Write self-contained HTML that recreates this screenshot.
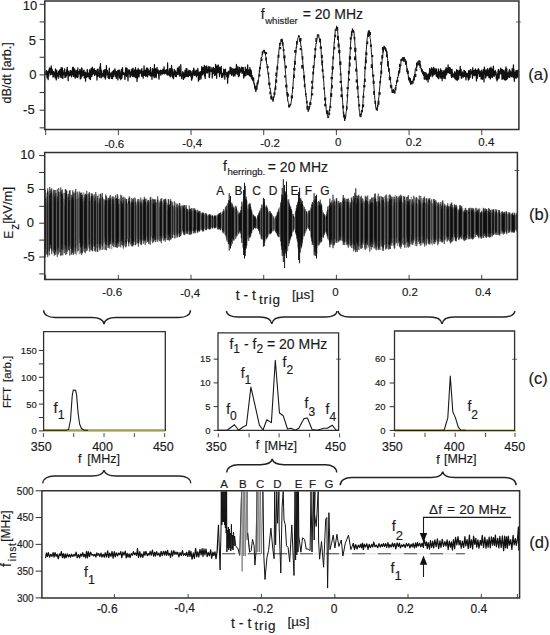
<!DOCTYPE html>
<html><head><meta charset="utf-8"><style>html,body{margin:0;padding:0;background:#fff;}svg{display:block;}text{stroke:#1a1a1a;stroke-width:0.16px;}</style></head>
<body><svg width="550" height="635" viewBox="0 0 550 635" font-family='"Liberation Sans", sans-serif' fill="#1a1a1a">
<rect width="550" height="635" fill="#fff"/>
<path d="M45.50 73.80 L45.72 74.73 L45.94 72.95 L46.16 71.04 L46.38 72.39 L46.60 70.72 L46.82 73.98 L47.04 77.95 L47.26 72.27 L47.48 71.87 L47.70 75.31 L47.92 74.90 L48.14 79.70 L48.36 70.91 L48.58 73.70 L48.80 75.95 L49.02 69.63 L49.24 72.38 L49.46 67.90 L49.68 69.80 L49.90 68.08 L50.12 73.06 L50.34 69.86 L50.56 74.63 L50.78 74.28 L51.00 73.21 L51.22 65.99 L51.44 72.12 L51.66 73.64 L51.88 74.14 L52.10 69.05 L52.32 72.31 L52.54 70.76 L52.76 71.28 L52.98 77.08 L53.20 71.29 L53.42 73.69 L53.64 76.53 L53.86 71.98 L54.08 73.44 L54.30 74.13 L54.52 73.99 L54.74 72.92 L54.96 74.02 L55.18 78.00 L55.40 68.99 L55.62 76.45 L55.84 74.16 L56.06 71.80 L56.28 79.99 L56.50 76.15 L56.72 70.07 L56.94 74.02 L57.16 75.57 L57.38 73.20 L57.60 75.90 L57.82 73.58 L58.04 75.85 L58.26 78.24 L58.48 71.69 L58.70 74.41 L58.92 72.35 L59.14 74.18 L59.36 70.10 L59.58 71.98 L59.80 73.17 L60.02 76.57 L60.24 77.33 L60.46 69.68 L60.68 71.32 L60.90 75.78 L61.12 67.60 L61.34 72.34 L61.56 73.48 L61.78 77.67 L62.00 75.91 L62.22 72.76 L62.44 67.90 L62.66 73.00 L62.88 78.50 L63.10 72.45 L63.32 72.83 L63.54 74.87 L63.76 73.40 L63.98 73.16 L64.20 70.32 L64.42 73.74 L64.64 68.86 L64.86 77.39 L65.08 75.80 L65.30 73.70 L65.52 75.84 L65.74 72.72 L65.96 77.03 L66.18 73.76 L66.40 75.58 L66.62 69.77 L66.84 74.85 L67.06 68.54 L67.28 67.46 L67.50 72.83 L67.72 70.98 L67.94 74.28 L68.16 80.73 L68.38 71.19 L68.60 71.83 L68.82 74.40 L69.04 75.30 L69.26 73.22 L69.48 73.13 L69.70 75.94 L69.92 75.38 L70.14 70.56 L70.36 73.52 L70.58 73.88 L70.80 70.50 L71.02 74.57 L71.24 71.11 L71.46 76.78 L71.68 74.36 L71.90 74.04 L72.12 71.93 L72.34 73.40 L72.56 67.57 L72.78 70.26 L73.00 74.89 L73.22 67.16 L73.44 76.39 L73.66 68.35 L73.88 71.41 L74.10 71.14 L74.32 76.18 L74.54 74.17 L74.76 69.00 L74.98 77.63 L75.20 78.23 L75.42 73.56 L75.64 72.91 L75.86 73.26 L76.08 70.74 L76.30 77.16 L76.52 72.08 L76.74 73.60 L76.96 71.30 L77.18 71.82 L77.40 69.80 L77.62 77.65 L77.84 67.95 L78.06 76.75 L78.28 73.80 L78.50 71.60 L78.72 72.74 L78.94 72.02 L79.16 73.78 L79.38 72.59 L79.60 72.82 L79.82 69.48 L80.04 71.25 L80.26 78.88 L80.48 71.67 L80.70 70.48 L80.92 74.80 L81.14 78.11 L81.36 69.24 L81.58 67.77 L81.80 71.79 L82.02 68.29 L82.24 76.03 L82.46 73.68 L82.68 73.97 L82.90 71.42 L83.12 75.16 L83.34 72.08 L83.56 73.31 L83.78 70.31 L84.00 69.98 L84.22 77.89 L84.44 72.18 L84.66 74.65 L84.88 73.64 L85.10 72.38 L85.32 72.17 L85.54 81.11 L85.76 72.81 L85.98 73.28 L86.20 73.81 L86.42 77.39 L86.64 75.85 L86.86 74.93 L87.08 72.00 L87.30 69.46 L87.52 76.69 L87.74 76.74 L87.96 73.31 L88.18 75.42 L88.40 76.16 L88.62 76.32 L88.84 76.60 L89.06 72.33 L89.28 78.44 L89.50 69.88 L89.72 76.41 L89.94 78.70 L90.16 76.45 L90.38 79.56 L90.60 78.34 L90.82 70.19 L91.04 68.50 L91.26 76.27 L91.48 70.59 L91.70 73.70 L91.92 76.34 L92.14 68.64 L92.36 67.20 L92.58 74.54 L92.80 73.87 L93.02 72.97 L93.24 73.86 L93.46 71.07 L93.68 69.04 L93.90 73.22 L94.12 70.72 L94.34 68.64 L94.56 75.30 L94.78 73.54 L95.00 74.99 L95.22 70.67 L95.44 71.69 L95.66 70.64 L95.88 70.98 L96.10 74.34 L96.32 71.30 L96.54 74.84 L96.76 74.78 L96.98 80.01 L97.20 69.41 L97.42 76.48 L97.64 73.45 L97.86 73.69 L98.08 69.23 L98.30 72.30 L98.52 76.03 L98.74 73.47 L98.96 73.98 L99.18 72.83 L99.40 77.31 L99.62 73.66 L99.84 66.91 L100.06 71.58 L100.28 67.62 L100.50 63.65 L100.72 72.08 L100.94 77.86 L101.16 73.87 L101.38 70.09 L101.60 70.81 L101.82 77.23 L102.04 74.21 L102.26 73.87 L102.48 73.56 L102.70 73.84 L102.92 76.22 L103.14 75.44 L103.36 74.39 L103.58 70.49 L103.80 75.31 L104.02 71.60 L104.24 77.11 L104.46 69.78 L104.68 73.29 L104.90 73.70 L105.12 69.61 L105.34 79.06 L105.56 78.25 L105.78 72.28 L106.00 76.11 L106.22 74.89 L106.44 65.62 L106.66 74.49 L106.88 73.53 L107.10 73.98 L107.32 70.38 L107.54 72.88 L107.76 73.16 L107.98 77.40 L108.20 74.75 L108.42 73.70 L108.64 78.45 L108.86 71.99 L109.08 72.51 L109.30 68.08 L109.52 78.58 L109.74 76.70 L109.96 76.56 L110.18 75.79 L110.40 74.05 L110.62 74.38 L110.84 72.93 L111.06 73.08 L111.28 73.88 L111.50 78.40 L111.72 75.43 L111.94 73.53 L112.16 71.91 L112.38 71.74 L112.60 78.68 L112.82 75.28 L113.04 73.92 L113.26 72.64 L113.48 70.27 L113.70 73.50 L113.92 76.42 L114.14 72.49 L114.36 73.00 L114.58 69.65 L114.80 74.05 L115.02 68.77 L115.24 72.98 L115.46 71.06 L115.68 76.45 L115.90 71.32 L116.12 75.49 L116.34 78.43 L116.56 72.73 L116.78 71.84 L117.00 74.30 L117.22 73.70 L117.44 70.62 L117.66 75.13 L117.88 79.95 L118.10 72.90 L118.32 73.07 L118.54 70.46 L118.76 71.87 L118.98 69.84 L119.20 70.27 L119.42 77.67 L119.64 70.89 L119.86 77.05 L120.08 78.42 L120.30 74.50 L120.52 75.41 L120.74 79.74 L120.96 73.08 L121.18 71.85 L121.40 69.49 L121.62 73.81 L121.84 78.27 L122.06 76.65 L122.28 70.76 L122.50 67.73 L122.72 72.11 L122.94 74.58 L123.16 73.03 L123.38 74.33 L123.60 74.58 L123.82 72.74 L124.04 73.54 L124.26 74.30 L124.48 73.39 L124.70 75.21 L124.92 79.45 L125.14 75.48 L125.36 73.82 L125.58 68.42 L125.80 74.84 L126.02 67.61 L126.24 69.27 L126.46 76.28 L126.68 75.82 L126.90 73.17 L127.12 68.33 L127.34 72.48 L127.56 71.52 L127.78 75.60 L128.00 80.62 L128.22 74.29 L128.44 71.20 L128.66 69.98 L128.88 73.44 L129.10 73.06 L129.32 70.04 L129.54 73.97 L129.76 70.03 L129.98 77.05 L130.20 76.89 L130.42 76.96 L130.64 72.12 L130.86 75.19 L131.08 73.18 L131.30 72.38 L131.52 72.53 L131.74 69.55 L131.96 69.10 L132.18 76.04 L132.40 72.98 L132.62 74.24 L132.84 76.68 L133.06 68.20 L133.28 71.14 L133.50 74.11 L133.72 74.78 L133.94 72.39 L134.16 76.75 L134.38 74.21 L134.60 69.79 L134.82 70.67 L135.04 76.05 L135.26 74.99 L135.48 67.66 L135.70 77.72 L135.92 75.39 L136.14 77.70 L136.36 72.35 L136.58 72.62 L136.80 70.04 L137.02 81.39 L137.24 72.98 L137.46 78.45 L137.68 71.52 L137.90 74.03 L138.12 68.34 L138.34 72.33 L138.56 76.56 L138.78 69.63 L139.00 76.83 L139.22 74.55 L139.44 70.27 L139.66 71.95 L139.88 72.08 L140.10 73.35 L140.32 71.83 L140.54 70.93 L140.76 72.55 L140.98 70.31 L141.20 69.49 L141.42 73.34 L141.64 76.22 L141.86 68.74 L142.08 73.49 L142.30 71.46 L142.52 73.26 L142.74 76.12 L142.96 71.86 L143.18 78.11 L143.40 71.05 L143.62 74.66 L143.84 72.76 L144.06 65.93 L144.28 75.28 L144.50 72.97 L144.72 75.32 L144.94 73.30 L145.16 70.08 L145.38 73.13 L145.60 73.61 L145.82 76.41 L146.04 70.63 L146.26 75.87 L146.48 68.10 L146.70 75.45 L146.92 70.08 L147.14 67.83 L147.36 73.24 L147.58 76.85 L147.80 68.70 L148.02 70.05 L148.24 71.11 L148.46 69.91 L148.68 74.59 L148.90 70.91 L149.12 71.17 L149.34 75.21 L149.56 71.06 L149.78 74.74 L150.00 70.39 L150.22 69.64 L150.44 67.71 L150.66 76.09 L150.88 72.40 L151.10 74.15 L151.32 73.29 L151.54 73.88 L151.76 73.54 L151.98 79.30 L152.20 70.16 L152.42 68.55 L152.64 70.24 L152.86 69.23 L153.08 75.68 L153.30 75.91 L153.52 70.38 L153.74 69.05 L153.96 72.26 L154.18 77.67 L154.40 64.62 L154.62 74.99 L154.84 70.02 L155.06 76.57 L155.28 70.01 L155.50 72.46 L155.72 68.67 L155.94 70.31 L156.16 77.63 L156.38 75.88 L156.60 72.09 L156.82 70.63 L157.04 67.46 L157.26 72.11 L157.48 73.23 L157.70 73.06 L157.92 73.03 L158.14 69.84 L158.36 73.11 L158.58 73.19 L158.80 77.31 L159.02 79.10 L159.24 72.88 L159.46 70.93 L159.68 73.10 L159.90 71.42 L160.12 71.00 L160.34 73.12 L160.56 70.07 L160.78 75.18 L161.00 72.98 L161.22 74.08 L161.44 72.73 L161.66 71.05 L161.88 70.36 L162.10 72.56 L162.32 71.60 L162.54 74.03 L162.76 73.29 L162.98 69.08 L163.20 73.51 L163.42 69.14 L163.64 71.39 L163.86 72.39 L164.08 66.87 L164.30 73.58 L164.52 73.77 L164.74 72.81 L164.96 71.98 L165.18 72.14 L165.40 70.27 L165.62 72.46 L165.84 71.59 L166.06 73.58 L166.28 69.57 L166.50 74.03 L166.72 73.74 L166.94 72.86 L167.16 71.94 L167.38 75.01 L167.60 62.93 L167.82 74.73 L168.04 74.05 L168.26 74.18 L168.48 74.49 L168.70 71.27 L168.92 72.50 L169.14 75.27 L169.36 69.50 L169.58 73.94 L169.80 68.61 L170.02 74.97 L170.24 76.93 L170.46 76.43 L170.68 74.03 L170.90 68.47 L171.12 76.22 L171.34 72.84 L171.56 65.45 L171.78 74.47 L172.00 68.67 L172.22 69.28 L172.44 71.33 L172.66 77.25 L172.88 72.15 L173.10 74.14 L173.32 78.72 L173.54 78.24 L173.76 72.98 L173.98 72.55 L174.20 69.39 L174.42 71.15 L174.64 74.62 L174.86 74.53 L175.08 73.64 L175.30 76.38 L175.52 70.91 L175.74 73.13 L175.96 75.57 L176.18 75.11 L176.40 76.62 L176.62 74.53 L176.84 72.34 L177.06 74.42 L177.28 70.19 L177.50 68.22 L177.72 69.23 L177.94 73.13 L178.16 74.26 L178.38 68.04 L178.60 72.17 L178.82 71.44 L179.04 70.62 L179.26 66.31 L179.48 76.02 L179.70 76.08 L179.92 74.48 L180.14 71.44 L180.36 73.25 L180.58 75.65 L180.80 64.74 L181.02 72.91 L181.24 74.98 L181.46 75.41 L181.68 78.57 L181.90 76.82 L182.12 74.27 L182.34 74.24 L182.56 75.74 L182.78 71.63 L183.00 73.18 L183.22 76.11 L183.44 79.37 L183.66 72.81 L183.88 73.15 L184.10 73.92 L184.32 77.46 L184.54 73.21 L184.76 77.86 L184.98 70.30 L185.20 72.72 L185.42 72.69 L185.64 75.74 L185.86 76.54 L186.08 68.62 L186.30 70.46 L186.52 74.34 L186.74 71.26 L186.96 68.58 L187.18 76.52 L187.40 74.83 L187.62 74.83 L187.84 71.83 L188.06 76.49 L188.28 72.56 L188.50 76.70 L188.72 70.47 L188.94 70.65 L189.16 73.93 L189.38 71.12 L189.60 75.39 L189.82 74.11 L190.04 70.44 L190.26 73.53 L190.48 72.21 L190.70 76.14 L190.92 71.34 L191.14 71.94 L191.36 77.05 L191.58 80.24 L191.80 79.50 L192.02 73.50 L192.24 73.98 L192.46 78.05 L192.68 72.91 L192.90 70.27 L193.12 73.66 L193.34 74.70 L193.56 70.73 L193.78 68.20 L194.00 68.85 L194.22 75.36 L194.44 70.95 L194.66 72.86 L194.88 73.96 L195.10 75.22 L195.32 72.26 L195.54 74.85 L195.76 70.54 L195.98 72.18 L196.20 70.12 L196.42 76.81 L196.64 73.22 L196.86 71.01 L197.08 72.21 L197.30 72.61 L197.52 75.47 L197.74 68.35 L197.96 70.08 L198.18 72.13 L198.40 81.15 L198.62 76.26 L198.84 72.95 L199.06 75.51 L199.28 79.68 L199.50 72.58 L199.72 72.16 L199.94 77.06 L200.16 74.80 L200.38 75.31 L200.60 71.61 L200.82 79.11 L201.04 78.40 L201.26 74.82 L201.48 75.14 L201.70 66.70 L201.92 74.92 L202.14 72.30 L202.36 74.20 L202.58 74.93 L202.80 71.72 L203.02 67.49 L203.24 73.83 L203.46 70.35 L203.68 71.59 L203.90 70.69 L204.12 71.47 L204.34 65.33 L204.56 76.22 L204.78 73.19 L205.00 75.81 L205.22 78.46 L205.44 72.35 L205.66 66.65 L205.88 69.43 L206.10 68.41 L206.32 70.56 L206.54 72.32 L206.76 65.83 L206.98 73.05 L207.20 67.27 L207.42 72.83 L207.64 71.53 L207.86 70.85 L208.08 71.56 L208.30 70.07 L208.52 69.80 L208.74 66.44 L208.96 71.53 L209.18 77.30 L209.40 77.68 L209.62 75.59 L209.84 73.64 L210.06 66.77 L210.28 70.57 L210.50 71.16 L210.72 71.08 L210.94 70.35 L211.16 71.49 L211.38 69.82 L211.60 70.87 L211.82 67.72 L212.04 69.88 L212.26 78.07 L212.48 70.74 L212.70 70.18 L212.92 72.53 L213.14 73.03 L213.36 67.34 L213.58 70.11 L213.80 73.56 L214.02 71.51 L214.24 71.01 L214.46 75.41 L214.68 68.45 L214.90 70.76 L215.12 68.85 L215.34 75.04 L215.56 64.33 L215.78 68.26 L216.00 68.66 L216.22 72.45 L216.44 72.37 L216.66 78.32 L216.88 65.80 L217.10 73.10 L217.32 69.96 L217.54 68.90 L217.76 72.73 L217.98 68.30 L218.20 64.81 L218.42 70.20 L218.64 66.79 L218.86 69.52 L219.08 72.78 L219.30 72.69 L219.52 76.74 L219.74 71.29 L219.96 67.25 L220.18 69.76 L220.40 69.35 L220.62 68.52 L220.84 73.74 L221.06 70.48 L221.28 66.45 L221.50 74.83 L221.72 77.57 L221.94 73.97 L222.16 73.28 L222.38 75.01 L222.60 73.26 L222.82 77.07 L223.04 74.65 L223.26 74.64 L223.48 74.79 L223.70 69.10 L223.92 73.20 L224.14 73.00 L224.36 74.55 L224.58 69.79 L224.80 79.16 L225.02 74.51 L225.24 70.53 L225.46 69.08 L225.68 73.60 L225.90 74.29 L226.12 72.44 L226.34 75.04 L226.56 72.86 L226.78 76.66 L227.00 72.80 L227.22 75.02 L227.44 78.27 L227.66 83.23 L227.88 72.00 L228.10 73.55 L228.32 72.25 L228.54 77.14 L228.76 71.02 L228.98 72.94 L229.20 74.21 L229.42 71.13 L229.64 71.06 L229.86 72.41 L230.08 67.24 L230.30 69.13 L230.52 72.19 L230.74 73.80 L230.96 72.62 L231.18 67.56 L231.40 71.49 L231.62 75.26 L231.84 74.37 L232.06 72.27 L232.28 69.62 L232.50 74.19 L232.72 70.31 L232.94 68.34 L233.16 69.34 L233.38 76.18 L233.60 72.23 L233.82 75.01 L234.04 69.79 L234.26 74.05 L234.48 69.14 L234.70 70.37 L234.92 75.98 L235.14 72.97 L235.36 68.90 L235.58 70.05 L235.80 71.19 L236.02 73.79 L236.24 68.38 L236.46 64.41 L236.68 68.97 L236.90 69.92 L237.12 70.25 L237.34 74.02 L237.56 70.95 L237.78 72.52 L238.00 66.62 L238.22 72.76 L238.44 76.60 L238.66 72.53 L238.88 70.95 L239.10 70.67 L239.32 75.77 L239.54 67.39 L239.76 69.95 L239.98 71.75 L240.20 72.66 L240.42 69.03 L240.64 71.37 L240.86 69.59 L241.08 70.86 L241.30 70.11 L241.52 67.01 L241.74 70.52 L241.96 73.33 L242.18 67.65 L242.40 69.93 L242.62 72.77 L242.84 67.43 L243.06 71.34 L243.28 67.52 L243.50 74.36 L243.72 78.04 L243.94 77.17 L244.16 72.77 L244.38 73.26 L244.60 71.38 L244.82 75.87 L245.04 75.86 L245.26 67.01 L245.48 74.40 L245.70 71.01 L245.92 75.56 L246.14 71.81 L246.36 69.17 L246.58 72.15 L246.80 73.61 L247.02 71.47 L247.24 72.90 L247.46 74.64 L247.68 64.84 L247.90 74.28 L248.12 73.70 L248.34 72.04 L248.56 71.85 L248.78 74.91 L249.00 70.33 L249.22 69.61 L249.44 71.28 L249.66 75.60 L249.88 67.67 L250.10 76.18 L250.32 70.67 L250.54 69.52 L250.76 76.77 L250.98 73.19 L251.20 70.26 L251.42 73.48 L251.64 77.63 L251.86 78.97 L252.08 75.41 L252.30 78.36 L252.52 79.93 L252.74 77.39 L252.96 80.70 L253.18 80.63 L253.40 80.32 L253.62 78.07 L253.84 83.34 L254.06 84.02 L254.28 83.47 L254.50 84.43 L254.72 88.11 L254.94 86.79 L255.16 88.47 L255.38 89.34 L255.60 88.40 L255.82 91.45 L256.04 86.09 L256.26 88.73 L256.48 86.65 L256.70 89.65 L256.92 88.79 L257.14 82.75 L257.36 83.44 L257.58 84.77 L257.80 83.87 L258.02 82.63 L258.24 80.38 L258.46 79.71" fill="none" stroke="#111" stroke-width="1.25" stroke-linejoin="round" />
<path d="M258.02 82.63 L258.24 80.38 L258.46 79.71 L258.68 78.55 L258.90 76.15 L259.12 76.00 L259.34 70.31 L259.56 72.32 L259.78 68.60 L260.00 69.45 L260.22 66.34 L260.44 63.90 L260.66 63.89 L260.88 60.75 L261.10 59.26 L261.32 57.03 L261.54 57.62 L261.76 57.02 L261.98 56.53 L262.20 54.03 L262.42 54.59 L262.64 52.51 L262.86 51.69 L263.08 51.99 L263.30 52.20 L263.52 50.19 L263.74 50.20 L263.96 50.34 L264.18 50.82 L264.40 49.92 L264.62 52.80 L264.84 51.63 L265.06 53.46 L265.28 52.74 L265.50 55.23 L265.72 56.40 L265.94 56.64 L266.16 61.05 L266.38 60.44 L266.60 63.74 L266.82 64.35 L267.04 64.02 L267.26 66.13 L267.48 68.97 L267.70 70.35 L267.92 72.21 L268.14 73.69 L268.36 73.69 L268.58 77.57 L268.80 76.95 L269.02 82.04 L269.24 82.48 L269.46 84.25 L269.68 86.57 L269.90 88.82 L270.12 88.23 L270.34 89.29 L270.56 91.50 L270.78 91.53 L271.00 94.01 L271.22 98.22 L271.44 95.80 L271.66 98.68 L271.88 96.77 L272.10 99.33 L272.32 98.88 L272.54 99.39 L272.76 100.20 L272.98 101.55 L273.20 99.27 L273.42 100.42 L273.64 96.64 L273.86 97.74 L274.08 95.68 L274.30 95.86 L274.52 93.43 L274.74 94.19 L274.96 87.93 L275.18 88.30 L275.40 87.93 L275.62 84.43 L275.84 81.84 L276.06 78.55 L276.28 76.79 L276.50 76.42 L276.72 77.04 L276.94 73.12 L277.16 67.98 L277.38 65.96 L277.60 64.26 L277.82 63.76 L278.04 59.26 L278.26 57.27 L278.48 57.15 L278.70 55.13 L278.92 50.54 L279.14 48.97 L279.36 46.76 L279.58 46.29 L279.80 42.98 L280.02 45.46 L280.24 42.65 L280.46 43.11 L280.68 44.09 L280.90 42.64 L281.12 39.33 L281.34 41.63 L281.56 41.96 L281.78 39.76 L282.00 39.93 L282.22 41.64 L282.44 40.66 L282.66 45.62 L282.88 42.10 L283.10 45.26 L283.32 48.04 L283.54 48.95 L283.76 52.58 L283.98 54.94 L284.20 56.71 L284.42 60.89 L284.64 59.39 L284.86 64.74 L285.08 66.58 L285.30 70.43 L285.52 73.34 L285.74 74.74 L285.96 77.87 L286.18 82.41 L286.40 84.55 L286.62 84.42 L286.84 91.81 L287.06 94.55 L287.28 92.11 L287.50 96.44 L287.72 101.16 L287.94 100.78 L288.16 101.67 L288.38 102.52 L288.60 103.28 L288.82 104.64 L289.04 104.94 L289.26 107.05 L289.48 105.87 L289.70 105.83 L289.92 104.68 L290.14 105.73 L290.36 104.09 L290.58 104.20 L290.80 104.75 L291.02 102.75 L291.24 101.59 L291.46 99.89 L291.68 97.86 L291.90 95.80 L292.12 93.62 L292.34 92.87 L292.56 88.35 L292.78 89.07 L293.00 85.04 L293.22 81.58 L293.44 79.36 L293.66 76.53 L293.88 74.95 L294.10 71.21 L294.32 70.88 L294.54 65.84 L294.76 61.36 L294.98 60.72 L295.20 56.61 L295.42 56.63 L295.64 55.65 L295.86 52.88 L296.08 48.26 L296.30 46.96 L296.52 48.25 L296.74 44.69 L296.96 42.71 L297.18 42.62 L297.40 43.12 L297.62 40.62 L297.84 38.30 L298.06 37.89 L298.28 37.74 L298.50 35.92 L298.72 35.28 L298.94 36.77 L299.16 35.79 L299.38 37.35 L299.60 38.16 L299.82 41.74 L300.04 38.70 L300.26 40.71 L300.48 41.91 L300.70 44.06 L300.92 46.36 L301.14 46.11 L301.36 47.49 L301.58 48.38 L301.80 51.29 L302.02 55.24 L302.24 56.83 L302.46 57.78 L302.68 60.93 L302.90 63.84 L303.12 66.87 L303.34 67.97 L303.56 70.90 L303.78 71.44 L304.00 74.77 L304.22 80.71 L304.44 78.40 L304.66 83.13 L304.88 86.19 L305.10 87.75 L305.32 89.43 L305.54 92.50 L305.76 94.62 L305.98 96.47 L306.20 96.05 L306.42 99.92 L306.64 100.61 L306.86 102.43 L307.08 104.70 L307.30 106.36 L307.52 107.66 L307.74 106.75 L307.96 109.18 L308.18 111.74 L308.40 110.26 L308.62 110.73 L308.84 108.78 L309.06 108.52 L309.28 109.35 L309.50 106.01 L309.72 107.18 L309.94 105.28 L310.16 103.00 L310.38 101.27 L310.60 100.84 L310.82 100.27 L311.04 99.60 L311.26 97.79 L311.48 94.37 L311.70 92.05 L311.92 88.95 L312.14 88.09 L312.36 84.81 L312.58 83.33 L312.80 82.16 L313.02 76.07 L313.24 72.79 L313.46 70.90 L313.68 67.47 L313.90 65.13 L314.12 65.62 L314.34 61.68 L314.56 56.96 L314.78 57.21 L315.00 55.58 L315.22 51.26 L315.44 48.69 L315.66 47.05 L315.88 45.89 L316.10 42.94 L316.32 43.58 L316.54 42.14 L316.76 40.79 L316.98 39.86 L317.20 38.03 L317.42 34.51 L317.64 35.67 L317.86 35.83 L318.08 34.75 L318.30 36.36 L318.52 34.95 L318.74 34.63 L318.96 38.16 L319.18 37.94 L319.40 38.33 L319.62 40.33 L319.84 41.80 L320.06 42.36 L320.28 40.49 L320.50 44.50 L320.72 46.70 L320.94 48.11 L321.16 51.77 L321.38 55.32 L321.60 55.63 L321.82 57.33 L322.04 65.42 L322.26 63.42 L322.48 65.15 L322.70 69.75 L322.92 72.77 L323.14 74.15 L323.36 78.83 L323.58 80.03 L323.80 82.25 L324.02 86.37 L324.24 89.79 L324.46 90.66 L324.68 94.42 L324.90 96.35 L325.12 101.01 L325.34 100.20 L325.56 104.95 L325.78 105.16 L326.00 106.92 L326.22 109.70 L326.44 111.47 L326.66 113.32 L326.88 113.37 L327.10 113.25 L327.32 114.19 L327.54 116.17 L327.76 116.74 L327.98 118.05 L328.20 116.92 L328.42 117.57 L328.64 117.68 L328.86 115.23 L329.08 112.10 L329.30 111.13 L329.52 109.18 L329.74 111.06 L329.96 105.85 L330.18 106.04 L330.40 102.61 L330.62 101.18 L330.84 97.27 L331.06 92.70 L331.28 89.24 L331.50 86.15 L331.72 82.71 L331.94 78.20 L332.16 72.85 L332.38 73.51 L332.60 65.68 L332.82 64.47 L333.04 59.40 L333.26 57.24 L333.48 54.63 L333.70 50.21 L333.92 48.11 L334.14 42.18 L334.36 42.77 L334.58 38.06 L334.80 37.26 L335.02 34.61 L335.24 29.32 L335.46 30.05 L335.68 30.00 L335.90 30.68 L336.12 28.42 L336.34 28.00 L336.56 25.85 L336.78 29.64 L337.00 30.66 L337.22 29.28 L337.44 30.12 L337.66 29.81 L337.88 34.66 L338.10 38.92 L338.32 38.68 L338.54 41.85 L338.76 43.65 L338.98 44.66 L339.20 50.66 L339.42 53.03 L339.64 55.39 L339.86 59.53 L340.08 63.90 L340.30 68.04 L340.52 70.71 L340.74 73.03 L340.96 76.13 L341.18 83.19 L341.40 84.24 L341.62 87.08 L341.84 90.62 L342.06 94.94 L342.28 96.44 L342.50 100.11 L342.72 102.59 L342.94 107.49 L343.16 110.17 L343.38 114.32 L343.60 111.83 L343.82 114.47 L344.04 117.80 L344.26 117.43 L344.48 118.03 L344.70 121.01 L344.92 118.58 L345.14 117.35 L345.36 116.59 L345.58 117.75 L345.80 116.47 L346.02 112.80 L346.24 111.40 L346.46 111.11 L346.68 108.69 L346.90 104.43 L347.12 103.03 L347.34 99.77 L347.56 93.43 L347.78 91.70 L348.00 88.91 L348.22 83.85 L348.44 78.00 L348.66 76.37 L348.88 73.70 L349.10 70.78 L349.32 62.15 L349.54 64.31 L349.76 55.90 L349.98 54.90 L350.20 51.80 L350.42 48.23 L350.64 44.14 L350.86 39.70 L351.08 39.39 L351.30 35.44 L351.52 31.21 L351.74 36.24 L351.96 32.26 L352.18 32.65 L352.40 28.59 L352.62 31.26 L352.84 31.45 L353.06 31.76 L353.28 30.44 L353.50 29.92 L353.72 32.46 L353.94 31.46 L354.16 33.90 L354.38 38.22 L354.60 39.19 L354.82 42.77 L355.04 45.60 L355.26 51.11 L355.48 53.45 L355.70 55.05 L355.92 60.02 L356.14 61.04 L356.36 65.18 L356.58 70.38 L356.80 71.35 L357.02 76.21 L357.24 78.55 L357.46 83.93 L357.68 89.33 L357.90 89.75 L358.12 94.26 L358.34 95.98 L358.56 98.62 L358.78 101.28 L359.00 107.19 L359.22 110.65 L359.44 110.37 L359.66 110.69 L359.88 114.00 L360.10 113.95 L360.32 116.33 L360.54 116.35 L360.76 116.69 L360.98 117.14 L361.20 115.37 L361.42 114.97 L361.64 112.39 L361.86 112.73 L362.08 109.95 L362.30 109.69 L362.52 106.53 L362.74 105.46 L362.96 103.26 L363.18 98.05 L363.40 95.74 L363.62 92.33 L363.84 91.05 L364.06 88.73 L364.28 84.04 L364.50 78.85 L364.72 77.39 L364.94 69.93 L365.16 69.98 L365.38 63.61 L365.60 57.36 L365.82 60.66 L366.04 55.96 L366.26 49.50 L366.48 47.99 L366.70 44.70 L366.92 42.52 L367.14 38.21 L367.36 37.15 L367.58 36.81 L367.80 35.02 L368.02 35.07 L368.24 31.52 L368.46 35.13 L368.68 31.11 L368.90 32.44 L369.12 30.12 L369.34 31.63 L369.56 35.81 L369.78 34.20 L370.00 37.52 L370.22 38.51 L370.44 39.25 L370.66 42.30 L370.88 44.49 L371.10 47.10 L371.32 51.39 L371.54 54.15 L371.76 55.63 L371.98 58.34 L372.20 63.02 L372.42 65.79 L372.64 70.49 L372.86 75.81 L373.08 76.82 L373.30 78.95 L373.52 81.94 L373.74 84.16 L373.96 87.06 L374.18 89.76 L374.40 93.19 L374.62 95.65 L374.84 99.41 L375.06 100.07 L375.28 102.18 L375.50 102.52 L375.72 107.47 L375.94 107.15 L376.16 109.58 L376.38 108.90 L376.60 110.03 L376.82 107.85 L377.04 108.81 L377.26 110.81 L377.48 105.17 L377.70 107.22 L377.92 106.70 L378.14 103.72 L378.36 102.57 L378.58 101.44 L378.80 97.05 L379.02 96.31 L379.24 92.43 L379.46 90.30 L379.68 87.89 L379.90 85.93 L380.12 83.67 L380.34 81.38 L380.56 76.28 L380.78 77.92 L381.00 74.17 L381.22 70.97 L381.44 66.99 L381.66 64.81 L381.88 63.22 L382.10 60.74 L382.32 55.91 L382.54 57.00 L382.76 57.95 L382.98 50.19 L383.20 52.37 L383.42 51.77 L383.64 48.67 L383.86 49.77 L384.08 45.92 L384.30 47.31 L384.52 48.88 L384.74 46.83 L384.96 46.76 L385.18 47.81 L385.40 47.57 L385.62 50.79 L385.84 48.32 L386.06 51.54 L386.28 49.70 L386.50 53.37 L386.72 53.53 L386.94 51.47 L387.16 56.36 L387.38 56.37 L387.60 58.76 L387.82 63.12 L388.04 61.07 L388.26 62.83 L388.48 68.09 L388.70 67.97 L388.92 71.77 L389.14 71.78 L389.36 71.78 L389.58 74.69 L389.80 78.28 L390.02 78.36 L390.24 79.71 L390.46 81.31 L390.68 82.53 L390.90 83.20 L391.12 88.28 L391.34 86.55 L391.56 85.88 L391.78 87.85 L392.00 90.56 L392.22 91.15 L392.44 90.54 L392.66 90.17 L392.88 91.59 L393.10 89.08 L393.32 89.72 L393.54 93.04 L393.76 90.86 L393.98 92.05 L394.20 93.16 L394.42 91.90 L394.64 90.46 L394.86 93.47 L395.08 90.51 L395.30 88.19 L395.52 89.35 L395.74 88.07 L395.96 85.14 L396.18 85.89 L396.40 84.59 L396.62 80.56 L396.84 82.68 L397.06 81.48 L397.28 80.17 L397.50 76.98 L397.72 78.16 L397.94 77.62 L398.16 76.76 L398.38 73.42 L398.60 75.47 L398.82 71.02 L399.04 71.70 L399.26 73.39 L399.48 68.67 L399.70 67.95 L399.92 69.84 L400.14 66.16 L400.36 65.36 L400.58 65.41 L400.80 66.08 L401.02 59.21 L401.24 61.00 L401.46 59.95 L401.68 59.15 L401.90 59.00 L402.12 58.50 L402.34 60.18 L402.56 57.56 L402.78 59.15 L403.00 59.43 L403.22 57.14 L403.44 58.67 L403.66 61.50 L403.88 59.09 L404.10 57.44 L404.32 58.79 L404.54 57.53 L404.76 60.23 L404.98 61.89 L405.20 59.31 L405.42 61.16 L405.64 64.45 L405.86 62.20 L406.08 64.41 L406.30 63.03 L406.52 64.41 L406.74 66.03 L406.96 72.17 L407.18 68.38 L407.40 69.25 L407.62 70.29 L407.84 72.14 L408.06 74.78 L408.28 74.97 L408.50 79.56 L408.72 77.06 L408.94 80.38 L409.16 79.06 L409.38 80.54 L409.60 77.41 L409.82 80.65 L410.04 81.40 L410.26 81.63 L410.48 78.43 L410.70 84.67 L410.92 82.52 L411.14 80.96 L411.36 83.09 L411.58 83.15 L411.80 84.30 L412.02 80.86 L412.24 81.25 L412.46 83.26 L412.68 82.53 L412.90 80.97 L413.12 79.97 L413.34 78.78 L413.56 79.55 L413.78 81.17 L414.00 75.91 L414.22 80.10 L414.44 77.83 L414.66 74.31 L414.88 75.78 L415.10 70.35 L415.32 68.85 L415.54 68.76 L415.76 69.57 L415.98 68.84 L416.20 67.59 L416.42 68.01 L416.64 62.78 L416.86 67.35 L417.08 62.90 L417.30 63.87 L417.52 63.91 L417.74 62.04 L417.96 61.33 L418.18 61.87 L418.40 63.79 L418.62 65.00 L418.84 65.01 L419.06 60.32 L419.28 62.53 L419.50 62.48 L419.72 65.54 L419.94 60.78 L420.16 67.82 L420.38 64.70 L420.60 64.53 L420.82 67.31 L421.04 69.24 L421.26 68.37 L421.48 70.39 L421.70 69.09 L421.92 71.95 L422.14 72.60 L422.36 70.44 L422.58 74.25 L422.80 72.23 L423.02 72.68 L423.24 71.18 L423.46 73.07 L423.68 75.86 L423.90 72.03 L424.12 78.54 L424.34 79.65 L424.56 76.76 L424.78 71.95 L425.00 76.71 L425.22 78.60 L425.44 77.69" fill="none" stroke="#151515" stroke-width="1.0" stroke-linejoin="round" />
<g fill="#151515"><rect x="258.37" y="74.20" width="2.01" height="2.44"/><rect x="259.04" y="66.78" width="1.86" height="2.16"/><rect x="260.76" y="58.39" width="1.78" height="2.56"/><rect x="261.69" y="51.32" width="1.67" height="2.53"/><rect x="264.89" y="52.11" width="2.24" height="2.10"/><rect x="265.30" y="57.51" width="1.56" height="3.04"/><rect x="266.60" y="65.87" width="2.05" height="2.38"/><rect x="267.73" y="72.49" width="1.56" height="2.47"/><rect x="268.11" y="82.48" width="2.37" height="2.66"/><rect x="269.35" y="91.42" width="1.56" height="2.92"/><rect x="270.35" y="96.20" width="2.01" height="3.25"/><rect x="273.43" y="92.34" width="1.89" height="2.57"/><rect x="274.78" y="85.94" width="1.57" height="3.85"/><rect x="275.18" y="79.43" width="2.00" height="3.29"/><rect x="275.34" y="72.55" width="1.74" height="3.47"/><rect x="276.48" y="66.26" width="1.78" height="3.38"/><rect x="277.44" y="54.89" width="1.98" height="2.82"/><rect x="279.10" y="46.84" width="2.14" height="2.35"/><rect x="280.86" y="38.79" width="1.91" height="3.23"/><rect x="282.74" y="49.03" width="1.76" height="2.03"/><rect x="283.26" y="55.40" width="2.25" height="3.07"/><rect x="284.78" y="65.57" width="2.13" height="2.75"/><rect x="284.07" y="75.41" width="1.82" height="2.13"/><rect x="285.16" y="84.69" width="2.19" height="2.74"/><rect x="286.59" y="93.54" width="2.30" height="3.16"/><rect x="288.12" y="104.70" width="2.08" height="2.81"/><rect x="290.74" y="95.35" width="2.24" height="3.13"/><rect x="292.09" y="86.95" width="1.52" height="2.03"/><rect x="293.01" y="74.49" width="1.85" height="3.49"/><rect x="293.16" y="67.82" width="2.28" height="2.73"/><rect x="293.97" y="60.81" width="1.94" height="3.93"/><rect x="294.16" y="50.00" width="2.35" height="2.72"/><rect x="296.06" y="40.91" width="1.58" height="3.85"/><rect x="299.99" y="38.06" width="1.58" height="3.20"/><rect x="299.67" y="47.94" width="1.76" height="2.23"/><rect x="301.65" y="56.16" width="1.71" height="3.55"/><rect x="301.20" y="64.98" width="2.26" height="3.57"/><rect x="303.08" y="75.17" width="2.07" height="3.17"/><rect x="303.84" y="83.86" width="1.61" height="3.48"/><rect x="305.07" y="92.85" width="1.52" height="2.50"/><rect x="305.98" y="100.72" width="1.65" height="2.70"/><rect x="306.44" y="105.91" width="2.26" height="3.74"/><rect x="309.32" y="102.13" width="2.11" height="2.81"/><rect x="310.93" y="93.23" width="2.27" height="2.17"/><rect x="311.33" y="86.41" width="2.05" height="2.51"/><rect x="311.08" y="80.81" width="1.68" height="2.76"/><rect x="312.26" y="71.58" width="1.84" height="2.81"/><rect x="312.50" y="65.66" width="1.89" height="2.57"/><rect x="313.85" y="54.96" width="1.89" height="3.13"/><rect x="314.19" y="48.13" width="2.23" height="2.19"/><rect x="315.32" y="38.17" width="1.57" height="3.83"/><rect x="319.21" y="38.59" width="1.85" height="3.21"/><rect x="319.72" y="46.31" width="2.24" height="2.54"/><rect x="320.85" y="54.84" width="1.97" height="3.25"/><rect x="321.41" y="60.50" width="1.73" height="2.71"/><rect x="321.67" y="69.13" width="1.86" height="2.64"/><rect x="322.76" y="75.77" width="1.54" height="2.65"/><rect x="323.33" y="87.48" width="1.69" height="2.07"/><rect x="324.01" y="97.54" width="2.24" height="2.49"/><rect x="324.18" y="103.74" width="2.25" height="2.61"/><rect x="326.02" y="110.33" width="2.34" height="3.82"/><rect x="328.40" y="112.69" width="1.77" height="2.14"/><rect x="329.71" y="105.94" width="1.66" height="2.01"/><rect x="330.17" y="93.08" width="2.05" height="3.83"/><rect x="331.17" y="84.92" width="1.71" height="3.50"/><rect x="330.56" y="76.88" width="2.35" height="2.33"/><rect x="331.57" y="66.29" width="2.28" height="3.29"/><rect x="332.39" y="56.43" width="1.71" height="2.88"/><rect x="333.48" y="46.85" width="1.81" height="2.67"/><rect x="334.28" y="34.67" width="1.87" height="2.55"/><rect x="336.04" y="26.96" width="2.19" height="2.66"/><rect x="336.98" y="35.97" width="1.88" height="3.83"/><rect x="337.58" y="43.48" width="1.84" height="3.93"/><rect x="338.19" y="49.94" width="2.26" height="3.22"/><rect x="339.20" y="61.39" width="2.24" height="3.55"/><rect x="339.75" y="73.23" width="1.58" height="2.14"/><rect x="339.60" y="80.86" width="2.32" height="2.16"/><rect x="340.56" y="87.24" width="1.70" height="3.56"/><rect x="340.47" y="94.30" width="2.27" height="2.96"/><rect x="342.32" y="105.55" width="1.77" height="2.90"/><rect x="343.13" y="114.51" width="2.13" height="2.54"/><rect x="343.86" y="116.12" width="2.01" height="2.99"/><rect x="345.94" y="106.17" width="1.65" height="3.39"/><rect x="346.53" y="94.43" width="1.75" height="2.12"/><rect x="346.48" y="87.16" width="2.36" height="2.00"/><rect x="348.35" y="78.53" width="1.77" height="2.04"/><rect x="347.89" y="70.71" width="1.84" height="3.44"/><rect x="348.91" y="62.74" width="1.71" height="3.80"/><rect x="348.80" y="56.23" width="2.29" height="3.41"/><rect x="349.58" y="47.17" width="2.16" height="2.14"/><rect x="349.78" y="37.09" width="1.70" height="2.71"/><rect x="351.84" y="29.95" width="1.65" height="2.25"/><rect x="353.60" y="37.06" width="1.81" height="2.34"/><rect x="354.20" y="47.79" width="2.19" height="4.00"/><rect x="354.08" y="56.39" width="1.97" height="3.80"/><rect x="355.18" y="68.58" width="2.20" height="3.09"/><rect x="355.68" y="79.46" width="2.25" height="3.14"/><rect x="356.51" y="85.95" width="2.08" height="3.55"/><rect x="357.35" y="95.80" width="1.80" height="2.39"/><rect x="358.24" y="104.20" width="1.89" height="2.32"/><rect x="359.31" y="113.78" width="1.76" height="2.78"/><rect x="361.07" y="109.88" width="1.88" height="2.12"/><rect x="362.02" y="104.32" width="2.11" height="2.95"/><rect x="362.52" y="95.65" width="1.94" height="2.14"/><rect x="363.08" y="85.14" width="2.40" height="2.20"/><rect x="364.16" y="78.61" width="1.67" height="3.44"/><rect x="364.07" y="66.65" width="2.07" height="2.45"/><rect x="364.88" y="59.83" width="1.99" height="3.48"/><rect x="365.32" y="52.31" width="2.06" height="2.87"/><rect x="366.40" y="41.42" width="1.84" height="2.84"/><rect x="367.21" y="33.54" width="1.77" height="3.33"/><rect x="369.04" y="32.05" width="2.01" height="2.96"/><rect x="369.86" y="44.55" width="2.16" height="2.27"/><rect x="371.45" y="54.90" width="1.86" height="2.17"/><rect x="370.75" y="64.26" width="1.91" height="3.77"/><rect x="372.13" y="74.50" width="2.23" height="2.21"/><rect x="372.58" y="80.75" width="2.09" height="3.13"/><rect x="373.16" y="91.04" width="1.81" height="3.78"/><rect x="374.43" y="100.94" width="1.61" height="3.01"/><rect x="377.50" y="100.80" width="1.94" height="3.96"/><rect x="378.45" y="92.17" width="2.27" height="2.56"/><rect x="379.25" y="80.86" width="1.80" height="2.59"/><rect x="380.34" y="70.49" width="1.94" height="3.38"/><rect x="380.24" y="61.78" width="1.62" height="3.32"/><rect x="381.35" y="55.01" width="1.62" height="3.70"/><rect x="381.88" y="47.00" width="2.32" height="3.03"/><rect x="385.93" y="54.13" width="1.84" height="3.07"/><rect x="387.03" y="62.77" width="1.65" height="3.72"/><rect x="388.06" y="68.15" width="1.76" height="3.54"/><rect x="388.77" y="76.85" width="2.34" height="3.28"/><rect x="389.87" y="85.11" width="2.40" height="2.35"/><rect x="391.51" y="89.97" width="1.80" height="3.03"/><rect x="394.78" y="87.14" width="1.58" height="3.21"/><rect x="396.50" y="79.76" width="1.87" height="2.05"/><rect x="398.57" y="70.02" width="1.76" height="2.51"/><rect x="398.95" y="63.78" width="1.69" height="3.35"/><rect x="400.93" y="58.91" width="1.77" height="2.33"/><rect x="404.91" y="60.70" width="1.92" height="3.57"/><rect x="406.95" y="70.59" width="1.84" height="3.50"/><rect x="409.12" y="79.02" width="1.56" height="3.67"/><rect x="411.46" y="81.49" width="2.24" height="2.12"/><rect x="414.57" y="73.92" width="1.80" height="3.28"/><rect x="415.52" y="68.52" width="1.72" height="2.66"/><rect x="416.20" y="62.99" width="2.31" height="2.40"/><rect x="420.94" y="69.40" width="2.12" height="2.17"/><rect x="423.13" y="72.77" width="2.22" height="2.85"/></g>
<path d="M425.00 76.71 L425.22 78.60 L425.44 77.69 L425.66 77.89 L425.88 72.72 L426.10 79.41 L426.32 76.55 L426.54 79.91 L426.76 73.86 L426.98 75.40 L427.20 77.20 L427.42 79.39 L427.64 75.26 L427.86 75.71 L428.08 82.03 L428.30 74.64 L428.52 74.60 L428.74 75.25 L428.96 73.13 L429.18 78.00 L429.40 78.91 L429.62 68.61 L429.84 69.82 L430.06 76.47 L430.28 75.95 L430.50 74.88 L430.72 75.37 L430.94 70.00 L431.16 71.43 L431.38 68.07 L431.60 67.70 L431.82 73.58 L432.04 69.16 L432.26 76.62 L432.48 70.81 L432.70 68.86 L432.92 72.60 L433.14 75.27 L433.36 71.83 L433.58 67.34 L433.80 71.67 L434.02 74.50 L434.24 69.58 L434.46 68.96 L434.68 74.04 L434.90 71.83 L435.12 68.59 L435.34 70.82 L435.56 70.01 L435.78 73.21 L436.00 72.95 L436.22 76.18 L436.44 75.21 L436.66 68.95 L436.88 74.89 L437.10 76.59 L437.32 75.57 L437.54 77.51 L437.76 73.10 L437.98 72.13 L438.20 77.92 L438.42 72.15 L438.64 69.00 L438.86 78.75 L439.08 73.57 L439.30 74.93 L439.52 71.65 L439.74 71.90 L439.96 72.42 L440.18 74.87 L440.40 77.11 L440.62 68.78 L440.84 78.16 L441.06 72.06 L441.28 72.29 L441.50 77.56 L441.72 75.06 L441.94 70.35 L442.16 80.63 L442.38 72.04 L442.60 75.25 L442.82 74.87 L443.04 78.39 L443.26 72.36 L443.48 76.65 L443.70 70.98 L443.92 76.51 L444.14 70.43 L444.36 71.44 L444.58 78.21 L444.80 73.11 L445.02 72.26 L445.24 78.69 L445.46 72.69 L445.68 68.90 L445.90 73.58 L446.12 67.53 L446.34 74.61 L446.56 74.79 L446.78 69.24 L447.00 69.05 L447.22 71.55 L447.44 71.06 L447.66 68.01 L447.88 72.83 L448.10 64.79 L448.32 69.82 L448.54 69.97 L448.76 70.44 L448.98 72.31 L449.20 67.63 L449.42 73.35 L449.64 71.06 L449.86 69.69 L450.08 67.57 L450.30 68.24 L450.52 73.13 L450.74 69.13 L450.96 72.43 L451.18 75.63 L451.40 75.65 L451.62 77.39 L451.84 71.74 L452.06 69.39 L452.28 76.02 L452.50 73.90 L452.72 76.52 L452.94 73.15 L453.16 76.89 L453.38 75.88 L453.60 75.54 L453.82 74.93 L454.04 74.65 L454.26 77.52 L454.48 74.17 L454.70 71.70 L454.92 71.91 L455.14 78.98 L455.36 73.27 L455.58 76.65 L455.80 73.32 L456.02 72.84 L456.24 79.90 L456.46 72.64 L456.68 69.64 L456.90 71.39 L457.12 72.62 L457.34 80.28 L457.56 74.24 L457.78 70.71 L458.00 70.50 L458.22 74.69 L458.44 75.68 L458.66 79.19 L458.88 71.44 L459.10 75.47 L459.32 74.54 L459.54 70.43 L459.76 73.54 L459.98 72.78 L460.20 66.39 L460.42 75.46 L460.64 75.27 L460.86 72.24 L461.08 69.45 L461.30 78.19 L461.52 74.42 L461.74 76.75 L461.96 77.97 L462.18 71.99 L462.40 76.12 L462.62 72.85 L462.84 73.41 L463.06 73.33 L463.28 73.60 L463.50 77.05 L463.72 73.98 L463.94 70.32 L464.16 72.74 L464.38 74.66 L464.60 70.83 L464.82 76.43 L465.04 73.44 L465.26 71.85 L465.48 73.23 L465.70 71.71 L465.92 79.81 L466.14 77.72 L466.36 74.99 L466.58 73.43 L466.80 76.34 L467.02 74.60 L467.24 73.33 L467.46 74.54 L467.68 74.55 L467.90 77.97 L468.12 73.54 L468.34 80.11 L468.56 70.87 L468.78 75.75 L469.00 70.49 L469.22 79.23 L469.44 72.58 L469.66 73.42 L469.88 76.47 L470.10 77.49 L470.32 70.15 L470.54 72.53 L470.76 69.28 L470.98 74.03 L471.20 73.29 L471.42 72.52 L471.64 71.48 L471.86 72.40 L472.08 71.29 L472.30 75.24 L472.52 78.30 L472.74 67.61 L472.96 73.24 L473.18 72.30 L473.40 75.13 L473.62 70.65 L473.84 73.15 L474.06 70.38 L474.28 75.76 L474.50 73.91 L474.72 73.10 L474.94 74.75 L475.16 72.84 L475.38 68.78 L475.60 75.45 L475.82 74.49 L476.04 73.12 L476.26 76.65 L476.48 80.87 L476.70 70.21 L476.92 71.18 L477.14 78.40 L477.36 78.00 L477.58 71.31 L477.80 69.94 L478.02 71.62 L478.24 72.06 L478.46 68.69 L478.68 73.70 L478.90 69.63 L479.12 69.85 L479.34 76.44 L479.56 71.48 L479.78 73.38 L480.00 75.55 L480.22 76.12 L480.44 72.56 L480.66 73.74 L480.88 71.04 L481.10 79.02 L481.32 75.61 L481.54 70.18 L481.76 73.61 L481.98 75.81 L482.20 75.09 L482.42 79.27 L482.64 77.85 L482.86 71.93 L483.08 73.32 L483.30 69.63 L483.52 74.37 L483.74 74.07 L483.96 81.98 L484.18 73.90 L484.40 67.11 L484.62 71.52 L484.84 73.95 L485.06 69.71 L485.28 70.91 L485.50 72.47 L485.72 78.07 L485.94 73.09 L486.16 70.84 L486.38 76.04 L486.60 71.93 L486.82 72.05 L487.04 69.32 L487.26 71.16 L487.48 75.62 L487.70 68.59 L487.92 70.69 L488.14 75.82 L488.36 72.43 L488.58 74.34 L488.80 70.14 L489.02 77.66 L489.24 77.01 L489.46 74.33 L489.68 68.16 L489.90 70.36 L490.12 76.63 L490.34 78.91 L490.56 74.52 L490.78 77.47 L491.00 67.02 L491.22 73.01 L491.44 73.60 L491.66 74.91 L491.88 68.86 L492.10 76.52 L492.32 77.70 L492.54 70.04 L492.76 69.40 L492.98 74.69 L493.20 68.48 L493.42 66.25 L493.64 76.11 L493.86 74.08 L494.08 72.12 L494.30 76.25 L494.52 74.03 L494.74 71.26 L494.96 73.91 L495.18 70.38 L495.40 71.24 L495.62 74.80 L495.84 71.88 L496.06 72.20 L496.28 78.77 L496.50 76.26 L496.72 76.09 L496.94 80.94 L497.16 75.10 L497.38 78.12 L497.60 73.54 L497.82 79.35 L498.04 70.65 L498.26 72.81 L498.48 69.33 L498.70 72.53 L498.92 75.21 L499.14 78.10 L499.36 71.54 L499.58 73.62 L499.80 72.49 L500.02 71.31 L500.24 69.91 L500.46 73.79 L500.68 68.23 L500.90 73.94 L501.12 73.66 L501.34 71.56 L501.56 70.47 L501.78 69.31 L502.00 79.40 L502.22 69.44 L502.44 78.43 L502.66 75.46 L502.88 72.47 L503.10 70.01 L503.32 76.83 L503.54 78.96 L503.76 70.70 L503.98 72.67 L504.20 76.86 L504.42 74.64 L504.64 79.80 L504.86 71.83 L505.08 75.28 L505.30 69.72 L505.52 80.10 L505.74 71.34 L505.96 66.76 L506.18 73.21 L506.40 73.17 L506.62 79.54 L506.84 68.92 L507.06 73.56 L507.28 75.44 L507.50 78.52 L507.72 73.40 L507.94 76.82 L508.16 75.21 L508.38 72.68 L508.60 73.84 L508.82 73.69 L509.04 70.76 L509.26 77.36 L509.48 69.30 L509.70 77.23 L509.92 76.56 L510.14 73.31 L510.36 71.23 L510.58 72.90 L510.80 75.07 L511.02 75.90 L511.24 74.49 L511.46 76.68 L511.68 71.87 L511.90 74.33 L512.12 68.74 L512.34 75.97 L512.56 74.07 L512.78 72.31 L513.00 77.20 L513.22 75.74 L513.44 64.87 L513.66 73.72 L513.88 69.09 L514.10 76.91 L514.32 81.32 L514.54 71.99 L514.76 73.83 L514.98 72.82 L515.20 74.69 L515.42 75.60 L515.64 77.59 L515.86 70.54 L516.08 78.47 L516.30 70.71 L516.52 74.46 L516.74 77.19 L516.96 75.81 L517.18 70.69 L517.40 71.42 L517.62 72.17 L517.84 73.44 L518.06 77.16 L518.28 69.60" fill="none" stroke="#111" stroke-width="1.25" stroke-linejoin="round" />
<path d="M44.8 129.6 V0.9 H518.9 V129.6 Z" fill="none" stroke="#303030" stroke-width="1.5"/>
<line x1="39.60" y1="4.30" x2="44.80" y2="4.30" stroke="#303030" stroke-width="1.0" />
<line x1="39.60" y1="21.95" x2="44.80" y2="21.95" stroke="#303030" stroke-width="1.0" />
<line x1="39.60" y1="39.60" x2="44.80" y2="39.60" stroke="#303030" stroke-width="1.0" />
<line x1="39.60" y1="57.25" x2="44.80" y2="57.25" stroke="#303030" stroke-width="1.0" />
<line x1="39.60" y1="74.90" x2="44.80" y2="74.90" stroke="#303030" stroke-width="1.0" />
<line x1="39.60" y1="92.55" x2="44.80" y2="92.55" stroke="#303030" stroke-width="1.0" />
<line x1="39.60" y1="110.20" x2="44.80" y2="110.20" stroke="#303030" stroke-width="1.0" />
<line x1="39.60" y1="127.85" x2="44.80" y2="127.85" stroke="#303030" stroke-width="1.0" />
<line x1="45.68" y1="129.60" x2="45.68" y2="135.10" stroke="#303030" stroke-width="0.9" />
<line x1="118.36" y1="129.60" x2="118.36" y2="135.10" stroke="#303030" stroke-width="0.9" />
<line x1="191.04" y1="129.60" x2="191.04" y2="135.10" stroke="#303030" stroke-width="0.9" />
<line x1="263.72" y1="129.60" x2="263.72" y2="135.10" stroke="#303030" stroke-width="0.9" />
<line x1="336.40" y1="129.60" x2="336.40" y2="135.10" stroke="#303030" stroke-width="0.9" />
<line x1="409.08" y1="129.60" x2="409.08" y2="135.10" stroke="#303030" stroke-width="0.9" />
<line x1="481.76" y1="129.60" x2="481.76" y2="135.10" stroke="#303030" stroke-width="0.9" />
<line x1="515.90" y1="21.95" x2="520.90" y2="21.95" stroke="#303030" stroke-width="0.7" />
<path d="M45.25 189.52V257.35M45.75 198.88V253.87M47.25 197.05V253.32M47.75 188.28V257.08M49.25 199.59V255.49M49.75 187.02V249.40M50.25 189.34V245.24M50.75 199.04V248.21M51.25 189.60V248.64M51.75 188.32V254.25M53.75 189.80V252.83M54.25 190.06V255.70M54.75 196.72V254.21M55.25 195.90V251.23M55.75 189.96V254.91M57.25 189.34V256.86M57.75 199.12V249.20M58.25 195.42V254.48M58.75 187.94V251.42M60.75 187.37V255.95M61.25 193.83V255.16M61.75 190.15V246.87M62.25 189.47V248.38M62.75 197.81V255.45M64.75 199.27V253.22M65.25 189.09V248.86M65.75 189.54V254.93M66.25 190.09V248.36M66.75 190.80V254.13M68.25 196.77V249.04M68.75 193.90V250.14M69.25 190.54V250.70M69.75 190.77V255.53M71.25 194.81V254.55M71.75 197.26V254.42M72.25 195.08V252.61M72.75 190.28V252.62M73.25 192.22V255.13M73.75 193.86V253.63M75.25 190.79V253.86M75.75 188.98V248.16M77.75 191.71V251.09M79.75 192.24V242.99M80.25 192.89V246.31M80.75 192.93V253.59M81.25 195.10V246.61M81.75 192.44V254.90M82.25 194.44V253.23M82.75 198.75V247.12M84.25 198.36V252.22M84.75 194.80V245.05M85.25 193.68V253.22M85.75 194.10V245.28M86.25 195.16V251.21M86.75 190.85V249.28M88.75 193.82V245.35M89.25 192.12V248.31M89.75 192.96V251.64M91.25 195.95V250.21M91.75 193.29V248.79M92.25 193.67V251.31M92.75 195.72V251.16M94.25 194.27V246.74M94.75 197.86V251.08M95.25 196.70V249.82M95.75 192.00V251.88M97.25 197.92V251.45M97.75 195.81V252.02M99.25 199.15V248.33M99.75 198.65V250.55M100.25 193.89V247.81M100.75 193.60V249.59M102.25 193.04V249.92M102.75 198.14V244.58M104.75 200.31V241.72M105.25 201.02V243.86M105.75 194.43V249.81M106.25 195.86V250.38M106.75 197.37V245.01M108.25 198.29V248.07M108.75 197.89V241.69M109.25 198.81V245.09M109.75 196.41V248.62M110.25 194.79V243.95M110.75 200.06V243.15M112.25 196.25V242.16M112.75 198.69V245.90M113.25 196.42V244.14M113.75 200.52V247.20M115.75 195.18V247.07M116.25 198.16V246.61M116.75 198.16V247.58M117.25 193.98V247.79M117.75 195.36V241.94M118.25 203.97V243.47M118.75 199.14V246.75M120.75 194.74V247.40M121.25 201.44V244.61M121.75 195.54V241.00M122.25 197.64V245.34M122.75 204.05V245.43M123.25 202.22V248.67M123.75 196.75V246.74M125.75 198.78V247.44M126.25 199.14V246.36M126.75 199.09V241.88M128.75 198.26V246.37M129.25 196.37V242.32M129.75 197.34V242.06M131.25 202.84V244.05M131.75 198.07V246.40M132.25 203.01V245.82M132.75 198.99V246.47M133.25 199.65V245.23M133.75 198.08V244.84M135.25 198.34V245.32M135.75 202.98V244.67M137.75 199.32V243.13M138.25 198.95V246.61M138.75 201.89V243.71M140.25 202.94V238.95M140.75 197.45V244.47M141.25 200.35V245.19M141.75 203.61V244.13M143.25 200.67V239.24M143.75 199.87V243.83M144.25 196.81V239.12M144.75 198.73V241.58M145.25 201.79V244.96M145.75 198.49V240.37M147.25 202.19V241.53M147.75 200.53V241.79M148.25 200.13V241.85M148.75 199.87V243.82M150.25 197.42V244.70M150.75 196.71V237.91M152.75 198.91V243.22M153.25 199.82V241.58M153.75 199.40V241.72M154.25 199.29V239.22M154.75 199.66V240.58M155.25 203.12V240.32M155.75 199.39V242.23M157.75 196.30V241.90M159.75 202.36V241.13M160.25 203.93V241.27M160.75 198.75V238.60M161.25 200.71V243.22M161.75 198.08V240.43M163.75 199.48V240.82M164.25 202.30V236.58M164.75 199.05V239.85M165.25 198.83V241.85M165.75 198.71V238.05M167.75 205.28V240.12M168.25 199.19V239.39M168.75 199.24V240.02M169.25 204.68V240.92M169.75 204.53V234.75M170.25 201.09V239.01M170.75 199.12V240.11M172.25 202.13V237.74M172.75 204.77V238.01M174.25 201.30V234.49M174.75 206.69V238.49M176.75 204.69V235.56M177.25 203.80V237.64M177.75 206.73V236.58M179.25 203.19V236.98M179.75 203.14V237.17M180.25 205.79V235.80M180.75 207.75V236.01M182.75 205.60V231.02M183.25 205.95V232.98M183.75 205.60V234.64M184.25 205.00V235.17M184.75 205.45V234.95M186.25 205.18V233.88M186.75 209.01V232.39M187.25 208.73V234.01M187.75 209.43V233.97M189.25 205.59V235.01M189.75 209.05V234.04M190.25 208.87V232.93M190.75 209.00V234.93M191.25 208.31V233.99M191.75 208.28V233.69M193.75 208.13V233.42M194.25 211.16V232.69M194.75 208.32V231.72M195.25 210.34V233.44M195.75 209.61V230.26M197.25 209.77V232.63M197.75 212.55V232.68M198.25 211.75V231.03M198.75 210.59V230.62M199.25 212.68V231.69M199.75 210.96V231.32M201.75 213.11V230.09M202.25 212.50V230.79M202.75 212.75V231.47M203.25 212.49V231.51M203.75 213.28V230.85M205.75 213.02V230.11M206.25 213.51V230.20M206.75 214.53V229.43M208.75 214.62V229.09M209.25 214.33V229.43M209.75 214.24V229.49M210.25 215.18V229.29M210.75 214.54V228.64M212.25 215.24V227.67M212.75 215.56V228.68M214.25 216.25V227.54M214.75 215.15V228.43M215.25 216.06V228.08M215.75 215.47V227.40M217.75 214.77V229.50M218.25 213.74V229.57M218.75 214.01V228.50M219.25 213.30V228.84M219.75 213.14V229.01M220.25 213.11V230.24M220.75 212.24V230.16M222.75 211.58V232.35M223.25 211.37V233.37M223.75 209.07V232.25M225.75 206.96V235.89M226.25 205.90V238.28M226.75 205.56V240.55M228.25 202.63V243.46M228.75 199.97V244.11M229.25 200.36V244.87M229.75 201.34V242.55M231.25 204.17V245.86M231.75 202.48V242.03M232.25 203.94V243.92M232.75 205.40V239.43M233.25 207.46V239.19M233.75 206.56V240.84M235.75 205.77V238.90M236.25 206.49V236.65M236.75 208.74V235.74M238.75 213.18V234.32M239.25 212.54V232.30M239.75 212.84V231.08M240.25 212.54V231.80M240.75 210.12V233.49M241.25 206.50V238.13M241.75 201.64V242.93M243.75 199.98V247.34M244.25 193.87V251.34M244.75 197.92V253.43M245.25 198.77V249.91M245.75 200.38V248.88M246.25 196.54V248.35M246.75 200.54V245.59M248.75 204.63V240.97M249.25 204.99V237.62M249.75 202.94V238.13M250.25 203.67V237.17M250.75 207.02V236.01M251.25 209.32V233.63M251.75 210.17V232.94M253.25 214.50V229.86M253.75 215.17V228.44M254.25 216.30V228.03M254.75 216.11V227.84M255.25 216.42V227.92M255.75 217.66V228.79M257.75 215.41V229.00M258.25 215.16V229.01M258.75 213.45V230.75M259.25 211.69V231.32M259.75 210.40V234.29M261.25 207.84V239.31M261.75 204.54V238.97M263.75 201.87V240.58M264.25 202.25V239.62M264.75 205.65V242.37M266.25 205.14V238.30M266.75 206.43V239.42M267.25 207.58V237.41M267.75 209.43V236.94M269.75 210.94V234.48M270.25 211.48V233.74M270.75 213.52V233.97M271.25 212.92V233.16M271.75 213.96V232.02M273.75 216.26V231.14M275.75 216.41V232.11M276.25 216.36V233.25M276.75 215.34V233.09M277.25 212.75V234.69M277.75 211.86V236.06M278.25 210.45V237.02M278.75 208.52V237.10M280.75 202.57V241.23M281.25 201.53V246.26M281.75 194.57V249.92M282.25 195.06V249.06M282.75 196.94V252.65M284.75 191.42V255.69M285.25 191.50V253.57M285.75 192.29V251.04M286.25 193.60V251.59M286.75 194.26V251.78M288.75 199.27V246.18M289.25 203.62V243.29M289.75 204.72V241.28M290.25 206.59V239.40M290.75 207.39V238.27M291.25 209.14V236.37M291.75 210.52V236.20M293.25 213.94V231.52M293.75 216.39V229.72M295.75 211.32V233.56M296.25 208.00V234.95M296.75 204.90V238.62M297.25 204.92V240.73M297.75 202.34V242.49M298.25 200.78V248.54M298.75 199.09V249.98M300.25 198.80V252.56M300.75 197.98V246.80M301.25 199.82V248.40M301.75 202.58V246.41M302.25 200.87V242.80M302.75 204.69V239.59M304.25 206.83V236.18M304.75 209.18V234.29M306.25 211.30V230.52M306.75 211.49V228.90M308.75 210.98V228.90M309.25 210.36V229.16M309.75 210.73V230.92M311.25 207.89V238.57M311.75 204.20V241.15M312.25 202.07V244.85M312.75 202.56V244.46M314.75 200.38V252.16M315.25 198.59V249.48M315.75 199.93V252.46M316.25 202.47V253.56M316.75 202.16V253.84M318.75 200.96V245.67M319.25 201.95V244.63M319.75 202.35V243.45M320.25 199.60V242.71M320.75 204.01V241.36M321.25 203.29V242.25M321.75 205.18V241.37M323.25 212.35V237.89M323.75 214.83V235.24M324.25 214.10V234.78M324.75 214.77V233.31M326.25 215.37V232.37M326.75 213.72V234.02M327.25 210.47V236.61M327.75 206.58V238.63M329.25 205.11V240.56M329.75 205.24V244.16M330.25 202.40V244.65M330.75 203.16V243.16M331.25 202.97V241.34M331.75 200.59V244.63M333.75 201.79V244.25M334.25 199.54V245.29M334.75 201.16V243.35M336.25 198.23V241.69M336.75 198.21V243.03M338.75 200.92V242.10M339.25 203.82V240.68M339.75 202.83V240.12M340.25 202.34V240.23M340.75 202.18V240.65M342.75 200.46V241.34M343.25 197.99V239.99M343.75 198.11V242.77M344.25 200.70V241.49M344.75 197.71V245.09M346.75 198.85V244.57M347.25 200.68V245.60M347.75 198.73V243.40M348.25 198.62V247.78M348.75 203.03V243.95M350.25 202.16V246.55M350.75 204.31V245.18M351.25 197.87V243.15M351.75 197.51V248.09M353.25 196.40V248.58M353.75 195.82V251.42M354.25 201.22V246.33M354.75 192.75V249.67M356.25 195.53V250.50M356.75 201.57V243.41M357.25 198.63V251.96M357.75 195.88V245.20M358.25 195.63V249.78M358.75 194.71V246.01M360.75 196.88V248.55M361.25 195.77V248.83M361.75 201.05V244.56M362.25 198.18V248.21M362.75 201.55V241.58M364.75 202.77V248.61M365.25 195.63V249.89M365.75 197.17V245.44M366.25 199.74V240.40M366.75 196.44V248.53M367.25 203.51V244.88M367.75 195.40V244.75M369.75 201.43V251.60M370.25 200.12V245.30M370.75 198.91V246.92M371.25 202.00V249.72M371.75 197.27V246.82M372.25 198.03V242.06M372.75 201.64V247.39M374.25 196.94V248.44M374.75 193.85V240.15M375.25 193.42V243.80M375.75 198.78V249.51M376.25 201.79V247.47M376.75 201.59V250.19M378.25 193.64V248.88M378.75 201.18V250.10M379.25 197.12V249.71M379.75 196.24V246.42M381.75 196.28V245.46M382.25 197.01V246.90M382.75 198.58V250.90M383.25 197.23V250.55M383.75 201.73V245.39M385.75 195.37V249.62M386.25 194.49V248.73M386.75 201.89V247.65M388.75 201.51V249.68M389.25 199.22V247.46M389.75 194.48V249.19M390.25 194.86V248.99M390.75 196.54V242.08M391.25 196.55V243.16M391.75 199.54V245.75M393.75 198.84V245.25M394.25 196.57V248.47M394.75 199.18V248.59M396.25 196.84V243.34M396.75 196.02V242.18M398.75 196.66V242.79M399.25 197.67V245.97M399.75 195.58V247.24M400.25 197.36V242.15M400.75 194.67V248.69M401.25 196.07V246.73M401.75 195.67V242.88M403.75 195.96V244.97M404.25 196.82V242.63M404.75 196.55V247.76M406.75 196.94V242.94M407.25 201.67V241.24M407.75 196.72V246.54M408.25 195.07V247.81M408.75 201.69V243.60M409.25 199.97V246.36M409.75 199.10V246.61M411.75 201.51V244.50M412.25 198.85V241.40M412.75 200.04V245.10M413.25 204.81V243.20M413.75 195.73V238.98M415.75 199.52V244.36M416.25 196.86V242.85M416.75 197.70V246.35M418.75 199.31V241.83M419.25 195.52V243.99M419.75 203.18V240.55M420.25 200.63V245.66M420.75 196.10V242.83M422.75 203.48V242.74M423.25 199.86V243.16M423.75 197.74V242.02M424.25 196.40V244.25M424.75 197.91V246.58M426.25 198.97V245.40M426.75 198.10V243.52M428.25 198.60V242.88M428.75 200.21V244.35M429.25 198.58V243.55M429.75 197.91V244.60M431.75 199.23V243.57M433.75 199.06V243.65M434.25 199.10V240.11M434.75 205.80V244.27M435.25 202.42V237.36M435.75 200.04V242.30M437.75 202.76V245.30M438.25 204.17V243.68M438.75 202.13V241.75M440.75 202.11V241.57M441.25 206.03V239.21M441.75 207.11V241.99M442.25 201.42V242.78M442.75 200.23V241.35M444.25 206.05V243.96M444.75 203.72V236.14M446.75 207.03V237.77M447.25 204.97V241.63M447.75 203.28V239.15M448.25 206.36V240.22M448.75 206.11V239.06M450.25 203.88V243.55M450.75 205.57V241.74M451.25 202.83V242.50M451.75 202.43V241.40M452.25 204.97V241.57M452.75 207.37V236.38M454.25 204.27V237.06M454.75 204.79V236.34M455.25 205.16V240.69M455.75 206.92V241.19M456.25 204.87V241.35M456.75 206.10V236.73M458.75 209.77V240.11M459.25 208.55V239.34M459.75 205.18V238.07M460.25 205.06V237.52M460.75 206.72V237.31M461.25 206.99V239.21M461.75 206.08V237.27M463.75 211.31V240.54M464.25 210.67V239.40M464.75 209.98V241.15M465.25 207.88V239.89M465.75 208.31V239.87M466.25 209.95V236.79M466.75 209.85V239.53M468.75 208.15V239.29M469.25 208.63V238.71M469.75 208.02V239.16M471.25 207.96V238.84M471.75 209.61V237.99M472.25 207.88V239.58M472.75 210.34V238.75M473.25 208.57V239.16M473.75 208.50V237.41M475.75 207.75V237.12M476.25 212.32V234.35M476.75 208.27V234.94M477.25 209.76V234.99M477.75 210.67V236.01M478.25 210.91V237.17M478.75 208.64V238.36M480.25 212.59V237.66M480.75 212.35V235.92M481.25 212.02V238.77M481.75 210.71V238.33M483.25 207.79V237.81M483.75 208.78V237.52M484.25 208.76V233.85M484.75 211.65V236.08M485.25 208.34V233.88M485.75 211.60V237.29M486.25 209.04V237.96M486.75 208.95V236.35M488.25 210.05V237.04M488.75 207.94V236.23M489.25 208.79V237.36M489.75 212.99V237.47M490.25 209.91V236.48M490.75 209.90V237.21M492.25 209.51V236.64M492.75 213.31V232.67M493.25 209.98V235.21M493.75 208.94V234.77M495.25 213.39V233.18M495.75 209.22V234.83M496.25 210.77V232.67M496.75 209.63V234.82M498.75 210.01V234.97M499.25 210.03V234.56M499.75 211.25V235.76M501.75 211.95V231.55M502.25 211.10V233.33M502.75 212.03V231.22M503.25 215.05V234.68M503.75 212.30V232.95M504.25 212.24V233.86M504.75 211.78V233.24M506.25 210.99V231.93M506.75 212.06V234.31M508.75 212.27V233.01M509.25 212.80V232.24M509.75 212.35V231.87M511.75 213.77V232.08M512.25 213.17V232.55M512.75 212.66V230.55M513.25 215.02V231.80M513.75 215.21V232.74M514.25 212.69V232.64M514.75 212.89V231.57M516.75 212.86V231.35" stroke="#262626" stroke-width="0.95" fill="none"/>
<path d="M45.25 197.65V248.98M45.75 202.13V249.69M47.25 204.46V244.60M47.75 191.06V254.34M49.25 202.88V250.88M49.75 194.96V243.52M50.25 193.15V242.70M50.75 202.17V244.87M51.25 194.37V244.93M51.75 192.28V250.64M53.75 193.56V249.40M54.25 197.28V248.43M54.75 200.67V249.44M55.25 199.48V247.43M55.75 193.28V251.66M57.25 196.66V249.38M57.75 201.83V246.16M58.25 202.09V246.71M58.75 192.05V248.03M60.75 191.66V251.90M61.25 199.21V249.09M61.75 193.98V244.01M62.25 194.30V244.63M62.75 201.81V250.15M64.75 205.54V244.97M65.25 193.31V245.54M65.75 199.00V245.65M66.25 192.91V246.12M66.75 193.74V251.21M68.25 200.49V245.21M68.75 197.33V246.83M69.25 199.93V242.45M69.75 200.21V245.74M71.25 199.79V248.80M71.75 203.93V246.01M72.25 197.37V250.10M72.75 197.92V245.50M73.25 199.93V246.84M73.75 198.78V248.30M75.25 193.99V250.71M75.75 199.03V240.49M77.75 198.38V244.92M79.75 197.77V239.26M80.25 197.10V242.94M80.75 198.63V247.62M81.25 199.31V242.92M81.75 195.11V252.03M82.25 201.50V245.52M82.75 201.39V244.40M84.25 201.16V248.79M84.75 202.59V238.73M85.25 198.42V248.18M85.75 196.52V243.35M86.25 197.83V248.42M86.75 194.95V245.83M88.75 201.35V239.35M89.25 197.79V243.48M89.75 200.60V244.07M91.25 201.53V244.32M91.75 195.82V246.50M92.25 196.19V248.76M92.75 200.53V245.93M94.25 201.15V240.69M94.75 202.25V245.87M95.25 200.69V245.49M95.75 200.44V243.55M97.25 204.13V243.90M97.75 202.48V244.40M99.25 203.47V243.35M99.75 203.56V244.52M100.25 198.16V243.87M100.75 199.67V243.64M102.25 196.79V246.26M102.75 203.37V239.55M104.75 205.71V236.66M105.25 203.10V241.62M105.75 199.94V244.11M106.25 200.61V245.08M106.75 200.65V241.84M108.25 200.29V245.79M108.75 203.70V236.71M109.25 202.33V241.42M109.75 200.46V244.23M110.25 198.13V241.14M110.75 205.74V237.39M112.25 199.03V239.87M112.75 201.52V242.85M113.25 199.17V241.64M113.75 204.43V242.39M115.75 199.09V243.27M116.25 204.43V239.84M116.75 200.64V244.80M117.25 198.87V243.11M117.75 198.79V239.25M118.25 208.42V237.87M118.75 203.71V241.57M120.75 200.73V241.58M121.25 204.74V240.79M121.75 202.28V235.91M122.25 203.94V239.02M122.75 208.48V239.32M123.25 206.93V242.01M123.75 200.27V243.14M125.75 203.57V241.96M126.25 201.42V243.82M126.75 202.35V238.90M128.75 201.02V243.41M129.25 202.16V237.51M129.75 201.55V238.46M131.25 207.44V238.46M131.75 201.36V242.88M132.25 206.24V241.55M132.75 202.51V242.54M133.25 204.21V240.23M133.75 202.01V240.89M135.25 201.61V241.91M135.75 205.24V241.80M137.75 203.69V238.79M138.25 201.99V243.16M138.75 204.57V240.61M140.25 205.57V236.40M140.75 202.14V239.88M141.25 203.48V241.59M141.75 206.87V239.88M143.25 204.99V235.43M143.75 203.08V240.41M144.25 199.17V237.38M144.75 200.86V239.63M145.25 205.34V240.58M145.75 202.33V237.10M147.25 206.74V236.60M147.75 204.99V237.29M148.25 202.18V239.82M148.75 203.33V240.09M150.25 202.56V239.53M150.75 200.17V235.49M152.75 203.72V238.32M153.25 204.09V237.37M153.75 203.27V237.95M154.25 205.60V233.81M154.75 204.28V236.24M155.25 205.89V237.25M155.75 202.13V239.47M157.75 199.71V238.92M159.75 207.03V235.84M160.25 208.37V235.71M160.75 201.55V236.26M161.25 206.40V236.65M161.75 201.07V237.76M163.75 204.79V235.61M164.25 204.81V234.31M164.75 200.80V238.24M165.25 202.47V238.18M165.75 204.95V232.88M167.75 209.42V234.57M168.25 205.27V233.81M168.75 204.81V234.73M169.25 207.58V237.01M169.75 207.47V231.99M170.25 206.51V233.61M170.75 200.99V238.32M172.25 206.13V233.78M172.75 207.65V234.62M174.25 205.72V231.06M174.75 209.05V235.21M176.75 207.27V232.91M177.25 208.19V232.80M177.75 209.20V233.45M179.25 205.69V234.41M179.75 206.94V233.23M180.25 208.86V232.30M180.75 210.51V232.29M182.75 207.83V229.24M183.25 207.11V231.88M183.75 208.53V231.60M184.25 209.14V230.93M184.75 207.85V232.47M186.25 208.63V230.71M186.75 211.19V230.00M187.25 211.33V230.89M187.75 211.68V231.13M189.25 209.70V230.98M189.75 211.95V230.60M190.25 212.29V229.30M190.75 211.85V231.40M191.25 211.78V230.23M191.75 210.47V231.39M193.75 210.67V230.92M194.25 213.73V229.61M194.75 209.76V230.51M195.25 212.35V231.11M195.75 211.28V228.93M197.25 212.54V229.88M197.75 213.40V231.58M198.25 212.68V230.09M198.75 213.33V228.29M199.25 214.72V229.31M199.75 211.88V230.45M201.75 214.91V228.27M202.25 214.82V228.44M202.75 214.27V229.77M203.25 214.39V229.44M203.75 215.43V228.49M205.75 215.52V227.71M206.25 214.75V228.93M206.75 215.69V228.20M208.75 215.72V227.98M209.25 216.28V227.44M209.75 215.73V227.98M210.25 216.53V227.77M210.75 216.04V227.24M212.25 215.80V227.18M212.75 216.34V227.82M214.25 217.32V226.45M214.75 216.07V227.52M215.25 217.36V226.69M215.75 216.26V226.71M217.75 216.36V227.71M218.25 215.83V227.48M218.75 215.67V227.00M219.25 215.23V227.15M219.75 213.84V228.39M220.25 213.88V229.44M220.75 214.56V227.98M222.75 213.44V230.28M223.25 213.36V231.01M223.75 210.90V230.65M225.75 209.22V233.69M226.25 209.72V234.34M226.75 210.10V235.48M228.25 204.42V241.56M228.75 206.33V238.03M229.25 205.57V239.65M229.75 206.99V237.30M231.25 207.37V241.95M231.75 207.27V237.59M232.25 208.84V238.67M232.75 208.34V236.84M233.25 210.22V236.58M233.75 208.02V239.41M235.75 209.56V235.34M236.25 208.59V234.86M236.75 211.66V233.06M238.75 214.43V232.85M239.25 214.71V230.22M239.75 215.13V228.98M240.25 213.83V230.50M240.75 212.91V230.88M241.25 210.75V234.02M241.75 206.59V238.30M243.75 205.09V242.15M244.25 200.72V244.90M244.75 202.78V247.75M245.25 202.31V246.13M245.75 203.13V245.87M246.25 199.40V245.72M246.75 205.58V240.67M248.75 209.46V235.25M249.25 208.37V234.26M249.75 204.83V236.42M250.25 207.16V234.10M250.75 210.99V232.07M251.25 212.72V230.35M251.75 212.32V230.89M253.25 215.39V228.98M253.75 216.99V226.88M254.25 217.40V227.03M254.75 217.08V227.05M255.25 218.16V226.47M255.75 218.97V227.27M257.75 217.03V227.47M258.25 216.09V228.09M258.75 215.35V228.83M259.25 213.22V229.99M259.75 212.22V232.46M261.25 209.62V237.27M261.75 208.61V235.24M263.75 206.80V236.36M264.25 205.94V236.55M264.75 207.07V240.70M266.25 207.25V236.45M266.75 208.10V237.76M267.25 210.53V234.65M267.75 212.24V234.06M269.75 212.53V232.97M270.25 213.89V231.49M270.75 214.34V233.02M271.25 214.86V231.23M271.75 215.21V230.82M273.75 218.52V228.96M275.75 218.15V230.47M276.25 218.16V231.25M276.75 217.63V230.80M277.25 214.30V233.24M277.75 212.83V235.06M278.25 213.94V233.28M278.75 211.69V233.92M280.75 208.24V235.68M281.25 205.16V242.14M281.75 199.63V245.07M282.25 198.66V245.73M282.75 203.55V245.33M284.75 194.12V253.04M285.25 195.80V249.59M285.75 194.85V248.78M286.25 197.20V248.20M286.75 198.90V247.25M288.75 202.02V243.47M289.25 207.39V239.22M289.75 206.14V239.77M290.25 209.16V236.67M290.75 209.48V236.17M291.25 210.63V234.95M291.75 213.77V232.95M293.25 215.86V229.65M293.75 217.56V228.38M295.75 212.79V231.98M296.25 210.62V232.51M296.75 208.35V235.19M297.25 209.63V235.73M297.75 207.27V238.01M298.25 202.81V246.48M298.75 204.66V244.66M300.25 206.46V244.25M300.75 204.32V241.18M301.25 201.84V246.21M301.75 204.35V244.29M302.25 204.11V239.56M302.75 208.48V235.51M304.25 209.77V233.24M304.75 210.98V232.42M306.25 212.50V229.27M306.75 212.44V227.99M308.75 212.67V227.34M309.25 212.70V227.06M309.75 211.57V229.98M311.25 209.33V236.88M311.75 208.98V236.43M312.25 205.24V241.72M312.75 204.32V242.79M314.75 205.80V246.14M315.25 205.46V243.23M315.75 205.95V246.13M316.25 208.61V246.28M316.75 207.16V247.90M318.75 204.95V241.81M319.25 206.25V240.24M319.75 205.06V240.63M320.25 205.79V236.91M320.75 207.98V237.11M321.25 205.87V239.63M321.75 209.90V236.62M323.25 213.48V236.73M323.75 217.83V232.41M324.25 215.94V233.15M324.75 216.91V231.50M326.25 216.30V231.48M326.75 216.21V231.56M327.25 211.62V235.49M327.75 209.87V235.71M329.25 209.10V236.72M329.75 207.17V241.86M330.25 206.84V239.92M330.75 207.67V238.42M331.25 204.95V239.42M331.75 205.53V239.53M333.75 205.98V239.47M334.25 205.69V238.64M334.75 205.72V238.43M336.25 201.79V238.50M336.75 200.54V240.80M338.75 202.86V240.25M339.25 207.89V236.60M339.75 206.92V236.44M340.25 205.33V237.61M340.75 208.10V235.21M342.75 206.09V235.73M343.25 202.15V236.45M343.75 204.62V236.53M344.25 203.84V238.38M344.75 200.37V242.44M346.75 202.17V241.45M347.25 204.83V241.27M347.75 202.78V239.97M348.25 202.13V244.26M348.75 208.17V238.77M350.25 207.48V240.85M350.75 207.99V241.01M351.25 203.47V238.80M351.75 200.68V245.02M353.25 202.34V242.78M353.75 202.48V244.28M354.25 203.66V243.61M354.75 198.12V244.73M356.25 203.03V242.49M356.75 203.67V241.24M357.25 205.31V243.48M357.75 198.36V243.02M358.25 198.90V246.37M358.75 199.87V241.53M360.75 204.22V240.92M361.25 199.34V245.24M361.75 205.48V239.89M362.25 203.29V242.70M362.75 203.52V239.73M364.75 208.23V241.22M365.25 201.40V243.89M365.75 199.80V243.01M366.25 203.80V237.13M366.75 201.34V243.53M367.25 206.26V241.55M367.75 201.27V239.83M369.75 205.80V245.43M370.25 203.38V241.89M370.75 203.34V242.23M371.25 206.31V243.86M371.75 202.53V241.64M372.25 203.40V237.66M372.75 203.90V244.62M374.25 203.06V242.09M374.75 198.87V236.97M375.25 198.47V240.02M375.75 201.50V246.34M376.25 205.62V242.74M376.75 206.04V244.15M378.25 201.40V241.64M378.75 202.98V247.71M379.25 200.96V245.50M379.75 203.14V239.99M381.75 200.43V241.74M382.25 200.86V243.13M382.75 202.56V246.07M383.25 199.65V247.80M383.75 207.01V239.38M385.75 201.25V243.55M386.25 199.20V244.17M386.75 204.58V244.23M388.75 205.34V244.48M389.25 201.38V245.03M389.75 199.02V244.68M390.25 199.37V244.46M390.75 201.51V238.11M391.25 198.92V241.16M391.75 205.86V238.96M393.75 205.50V238.40M394.25 202.65V241.99M394.75 202.48V244.64M396.25 202.34V238.51M396.75 202.44V237.01M398.75 199.67V240.21M399.25 203.19V240.30M399.75 201.13V241.71M400.25 200.35V239.58M400.75 198.09V245.21M401.25 202.27V240.54M401.75 201.95V237.64M403.75 202.81V238.60M404.25 203.69V236.68M404.75 200.25V243.82M406.75 203.73V236.90M407.25 204.24V238.63M407.75 201.39V241.74M408.25 201.48V241.32M408.75 204.71V240.15M409.25 202.13V243.81M409.75 205.57V239.19M411.75 204.04V241.50M412.25 204.77V236.03M412.75 205.29V239.15M413.25 207.07V240.15M413.75 202.13V234.48M415.75 205.94V237.43M416.25 203.83V236.58M416.75 203.25V240.35M418.75 204.29V237.06M419.25 199.81V240.13M419.75 206.50V236.90M420.25 202.86V242.96M420.75 203.37V236.44M422.75 208.29V236.76M423.25 202.58V240.32M423.75 204.42V236.01M424.25 202.16V238.84M424.75 203.07V240.91M426.25 205.41V238.37M426.75 202.85V238.93M428.25 204.40V237.35M428.75 205.47V238.59M429.25 201.07V241.12M429.75 200.17V242.36M431.75 203.20V239.62M433.75 204.24V238.55M434.25 200.97V238.57M434.75 207.50V241.84M435.25 206.15V234.29M435.75 202.54V239.90M437.75 206.38V240.80M438.25 208.66V238.06M438.75 205.42V238.41M440.75 204.65V239.04M441.25 210.20V234.65M441.75 208.79V239.72M442.25 203.63V240.54M442.75 205.12V236.99M444.25 209.05V239.86M444.75 205.68V234.64M446.75 208.79V235.98M447.25 209.12V236.98M447.75 206.38V236.42M448.25 209.18V237.06M448.75 208.32V236.79M450.25 206.55V240.54M450.75 207.99V239.00M451.25 207.19V238.10M451.75 207.56V236.63M452.25 208.72V237.55M452.75 209.78V234.22M454.25 208.13V234.09M454.75 209.87V232.54M455.25 207.88V237.96M455.75 208.99V238.83M456.25 207.22V238.96M456.75 210.13V233.45M458.75 212.62V236.49M459.25 211.06V236.57M459.75 209.56V234.46M460.25 209.52V234.02M460.75 208.26V236.01M461.25 211.08V235.23M461.75 209.11V234.84M463.75 212.50V238.87M464.25 212.36V237.32M464.75 213.45V236.68M465.25 212.04V235.59M465.75 212.50V235.43M466.25 212.87V233.98M466.75 211.10V238.09M468.75 211.57V235.80M469.25 210.64V236.67M469.75 212.29V234.87M471.25 210.01V236.81M471.75 213.43V234.00M472.25 209.87V237.52M472.75 212.83V235.85M473.25 210.41V237.21M473.75 212.14V234.01M475.75 211.99V233.40M476.25 214.51V232.17M476.75 211.86V232.19M477.25 211.31V233.67M477.75 212.08V234.60M478.25 212.97V234.88M478.75 210.23V236.74M480.25 213.53V236.39M480.75 213.76V234.29M481.25 215.19V234.38M481.75 212.66V235.98M483.25 211.33V234.45M483.75 212.45V233.87M484.25 213.07V230.66M484.75 214.35V233.05M485.25 210.80V232.09M485.75 213.17V235.36M486.25 210.84V236.06M486.75 212.61V232.93M488.25 213.84V232.98M488.75 211.34V233.27M489.25 211.92V234.22M489.75 215.95V233.23M490.25 212.70V233.61M490.75 213.69V233.12M492.25 212.67V233.44M492.75 215.18V230.79M493.25 211.17V234.09M493.75 210.25V233.67M495.25 215.97V230.39M495.75 212.19V232.23M496.25 212.05V231.64M496.75 212.56V232.17M498.75 212.27V232.82M499.25 213.58V231.29M499.75 212.97V233.82M501.75 214.10V229.80M502.25 214.15V230.55M502.75 215.08V228.79M503.25 217.01V231.60M503.75 213.33V231.93M504.25 214.70V231.23M504.75 213.83V231.24M506.25 213.43V229.98M506.75 213.43V232.79M508.75 215.18V230.05M509.25 214.51V230.54M509.75 215.06V229.39M511.75 215.37V230.34M512.25 214.26V231.38M512.75 214.65V228.94M513.25 216.52V229.95M513.75 216.09V231.52M514.25 215.28V230.00M514.75 214.98V229.61M516.75 214.98V229.43" stroke="#0e0e0e" stroke-width="0.95" fill="none"/>
<path d="M46.25 192.76V254.78M46.75 196.74V254.80M48.25 194.12V246.53M48.75 191.52V250.83M52.25 194.53V250.13M52.75 200.19V251.59M53.25 190.07V249.81M56.25 192.82V246.00M56.75 197.89V253.44M59.25 194.97V252.43M59.75 191.93V252.47M60.25 196.22V255.09M63.25 198.51V249.90M63.75 192.73V253.36M64.25 192.93V248.05M67.25 195.03V251.65M67.75 196.81V251.59M70.25 189.96V248.73M70.75 194.27V245.92M74.25 193.14V247.73M74.75 192.37V252.05M76.25 192.27V255.24M76.75 198.94V247.16M77.25 196.14V252.22M78.25 194.36V250.20M78.75 198.93V250.78M79.25 191.14V254.19M83.25 197.06V247.03M83.75 192.32V251.07M87.25 195.57V250.44M87.75 193.96V250.67M88.25 193.57V247.34M90.25 197.65V250.21M90.75 201.41V249.44M93.25 195.26V246.61M93.75 197.64V243.00M96.25 194.12V247.80M96.75 195.70V247.80M98.25 201.20V247.09M98.75 194.49V242.85M101.25 195.25V243.41M101.75 199.49V243.56M103.25 199.43V243.32M103.75 198.96V248.94M104.25 199.18V249.99M107.25 203.33V247.53M107.75 198.87V242.80M111.25 201.66V244.70M111.75 197.62V249.37M114.25 198.34V244.68M114.75 196.88V246.36M115.25 199.78V247.31M119.25 198.33V242.39M119.75 204.14V246.39M120.25 199.29V242.94M124.25 198.75V245.85M124.75 197.23V244.14M125.25 197.98V240.46M127.25 203.76V241.21M127.75 203.60V239.16M128.25 204.35V238.73M130.25 205.77V244.24M130.75 204.39V245.42M134.25 205.44V237.93M134.75 196.96V241.65M136.25 201.31V243.89M136.75 204.70V236.61M137.25 203.83V242.36M139.25 199.27V242.54M139.75 201.07V240.81M142.25 198.77V240.79M142.75 202.18V241.10M146.25 205.04V237.24M146.75 198.69V243.12M149.25 201.09V241.88M149.75 202.04V243.87M151.25 202.32V241.31M151.75 199.81V236.08M152.25 198.26V236.21M156.25 202.93V236.98M156.75 202.33V240.10M157.25 203.27V240.58M158.25 202.29V239.73M158.75 204.19V239.72M159.25 200.46V236.42M162.25 205.83V238.72M162.75 202.53V234.28M163.25 202.63V234.32M166.25 200.37V237.54M166.75 202.92V240.08M167.25 202.97V234.11M171.25 202.30V239.01M171.75 201.00V237.95M173.25 207.29V234.56M173.75 207.84V231.25M175.25 202.52V237.96M175.75 207.37V232.76M176.25 203.30V237.57M178.25 205.67V232.62M178.75 205.20V230.48M181.25 205.97V234.61M181.75 205.08V233.54M182.25 206.01V230.29M185.25 205.50V233.89M185.75 207.09V229.96M188.25 209.75V231.65M188.75 211.67V232.35M192.25 208.32V230.78M192.75 211.17V230.59M193.25 209.06V227.71M196.25 211.44V230.26M196.75 210.85V228.14M200.25 211.45V229.32M200.75 213.11V228.59M201.25 214.60V229.94M204.25 213.79V229.25M204.75 213.44V228.56M205.25 214.40V228.90M207.25 215.82V228.95M207.75 215.57V226.32M208.25 216.10V228.30M211.25 216.13V227.28M211.75 218.27V227.02M213.25 218.51V226.59M213.75 217.84V225.98M216.25 218.29V225.96M216.75 215.10V227.78M217.25 215.49V228.11M221.25 214.00V229.23M221.75 213.97V227.42M222.25 213.64V228.31M224.25 210.95V231.89M224.75 211.02V234.50M225.25 207.39V234.54M227.25 203.06V241.82M227.75 204.05V239.58M230.25 201.88V244.88M230.75 205.94V242.93M234.25 207.27V236.98M234.75 210.03V239.84M235.25 208.55V234.77M237.25 210.41V236.18M237.75 214.36V231.91M238.25 211.03V231.62M242.25 204.41V242.78M242.75 202.35V247.50M243.25 199.14V247.85M247.25 209.05V239.14M247.75 208.38V236.05M248.25 203.70V239.32M252.25 214.01V228.04M252.75 214.55V226.99M256.25 219.66V227.70M256.75 218.87V228.01M257.25 218.22V227.86M260.25 212.12V234.89M260.75 208.28V234.51M262.25 204.42V238.57M262.75 207.39V240.02M263.25 205.21V239.38M265.25 208.33V238.66M265.75 207.84V237.42M268.25 212.15V235.34M268.75 211.93V233.31M269.25 210.91V231.19M272.25 214.98V229.13M272.75 216.53V231.20M273.25 217.50V230.40M274.25 218.68V230.23M274.75 219.92V229.70M275.25 218.25V229.84M279.25 211.56V237.26M279.75 207.11V235.90M280.25 207.19V240.26M283.25 197.64V254.11M283.75 195.41V255.25M284.25 189.08V255.84M287.25 201.26V249.92M287.75 200.36V251.07M288.25 200.36V245.39M292.25 214.16V231.76M292.75 217.24V231.89M294.25 217.24V226.13M294.75 216.66V229.30M295.25 212.94V230.96M299.25 198.18V250.82M299.75 200.31V252.72M303.25 205.60V236.83M303.75 207.55V234.82M305.25 210.32V232.71M305.75 209.13V231.73M307.25 214.51V227.55M307.75 215.16V226.20M308.25 210.97V225.62M310.25 209.52V228.89M310.75 207.40V232.55M313.25 203.05V244.84M313.75 200.08V244.91M314.25 202.69V247.60M317.25 205.62V245.78M317.75 202.25V244.74M318.25 201.51V243.97M322.25 210.10V235.45M322.75 213.69V236.89M325.25 217.54V231.82M325.75 219.48V229.54M328.25 206.19V240.19M328.75 209.55V239.23M332.25 203.66V241.82M332.75 202.37V243.14M333.25 204.04V246.09M335.25 204.07V242.85M335.75 202.80V239.86M337.25 202.86V240.97M337.75 202.99V242.60M338.25 202.62V240.15M341.25 203.19V238.13M341.75 202.47V240.37M342.25 201.60V240.35M345.25 199.01V238.94M345.75 201.25V241.46M346.25 202.72V240.71M349.25 200.17V245.35M349.75 205.26V243.83M352.25 200.30V243.27M352.75 200.54V244.88M355.25 203.69V245.17M355.75 195.30V248.82M359.25 196.09V250.22M359.75 201.65V246.62M360.25 197.48V241.29M363.25 198.64V243.91M363.75 200.38V244.94M364.25 201.24V243.38M368.25 203.92V246.63M368.75 204.16V247.58M369.25 199.00V245.23M373.25 196.82V244.53M373.75 197.92V243.36M377.25 196.05V246.89M377.75 202.45V245.92M380.25 205.12V245.61M380.75 195.74V249.93M381.25 200.48V246.89M384.25 202.91V244.57M384.75 196.04V245.07M385.25 196.76V247.40M387.25 197.93V248.93M387.75 202.09V246.18M388.25 195.11V242.30M392.25 196.55V242.72M392.75 197.09V242.99M393.25 196.86V246.03M395.25 194.99V242.85M395.75 198.60V242.17M397.25 198.41V246.08M397.75 197.69V243.75M398.25 196.67V239.92M402.25 202.20V243.58M402.75 204.17V244.37M403.25 199.34V245.22M405.25 201.78V243.90M405.75 199.58V245.32M406.25 197.58V247.93M410.25 199.04V244.23M410.75 200.02V243.99M411.25 196.46V235.06M414.25 196.80V241.23M414.75 202.83V239.89M415.25 197.85V246.09M417.25 205.09V244.31M417.75 198.20V237.67M418.25 202.03V241.92M421.25 202.65V245.42M421.75 198.39V242.41M422.25 198.38V244.55M425.25 203.85V244.13M425.75 202.63V242.88M427.25 205.17V239.85M427.75 200.78V237.73M430.25 203.22V243.75M430.75 201.00V238.43M431.25 201.92V238.96M432.25 205.22V245.56M432.75 203.39V236.06M433.25 202.47V241.55M436.25 201.76V238.57M436.75 201.60V240.66M437.25 207.40V240.64M439.25 205.89V241.41M439.75 203.35V237.87M440.25 204.53V240.91M443.25 202.47V241.99M443.75 207.91V236.36M445.25 205.45V240.58M445.75 205.29V238.74M446.25 206.13V240.71M449.25 207.05V241.03M449.75 206.19V241.47M453.25 207.11V239.46M453.75 210.06V240.66M457.25 210.98V236.94M457.75 208.53V238.07M458.25 212.49V237.81M462.25 211.14V239.46M462.75 207.91V237.76M463.25 210.92V234.11M467.25 210.39V234.16M467.75 210.45V234.69M468.25 214.01V238.52M470.25 207.35V238.26M470.75 215.16V236.81M474.25 210.23V237.68M474.75 212.82V234.12M475.25 212.49V233.36M479.25 208.82V235.40M479.75 208.22V234.83M482.25 214.71V236.78M482.75 212.60V236.12M487.25 212.38V236.79M487.75 210.75V236.02M491.25 212.10V234.33M491.75 209.40V235.39M494.25 215.32V234.18M494.75 211.75V230.01M497.25 214.92V234.67M497.75 213.87V234.55M498.25 212.47V233.93M500.25 215.49V229.66M500.75 213.80V233.01M501.25 213.18V234.15M505.25 212.01V230.16M505.75 216.44V231.53M507.25 214.34V230.30M507.75 215.67V230.10M508.25 213.66V232.18M510.25 213.46V229.87M510.75 214.05V231.22M511.25 214.69V232.65M515.25 214.36V229.66M515.75 216.90V229.91M516.25 216.68V229.39" stroke="#555555" stroke-width="0.7" fill="none"/>
<path d="M229.20 193.20V250.60M230.50 196.00V248.50M244.50 182.80V258.50M245.20 186.00V256.00M243.60 190.00V255.00M263.40 197.80V246.70M264.30 199.00V246.00M283.30 179.10V262.00M284.60 185.00V268.00M286.50 181.40V258.00M282.20 188.00V256.00M299.60 187.70V263.30M298.60 192.00V260.00M314.10 193.10V255.30M316.50 194.70V258.50M315.30 196.00V256.00M329.90 198.60V247.40M333.00 194.70V248.20M355.80 188.40V252.20M343.20 195.00V245.00" stroke="#111" stroke-width="1.0" fill="none"/>
<path d="M44.7 279.6 V152.4 H517.4 V279.6 Z" fill="none" stroke="#303030" stroke-width="1.5"/>
<line x1="39.20" y1="155.60" x2="44.70" y2="155.60" stroke="#303030" stroke-width="1.0" />
<line x1="39.20" y1="172.50" x2="44.70" y2="172.50" stroke="#303030" stroke-width="1.0" />
<line x1="39.20" y1="189.40" x2="44.70" y2="189.40" stroke="#303030" stroke-width="1.0" />
<line x1="39.20" y1="206.30" x2="44.70" y2="206.30" stroke="#303030" stroke-width="1.0" />
<line x1="39.20" y1="223.20" x2="44.70" y2="223.20" stroke="#303030" stroke-width="1.0" />
<line x1="39.20" y1="240.10" x2="44.70" y2="240.10" stroke="#303030" stroke-width="1.0" />
<line x1="39.20" y1="257.00" x2="44.70" y2="257.00" stroke="#303030" stroke-width="1.0" />
<line x1="39.20" y1="273.90" x2="44.70" y2="273.90" stroke="#303030" stroke-width="1.0" />
<line x1="45.68" y1="274.80" x2="45.68" y2="279.60" stroke="#303030" stroke-width="0.9" />
<line x1="118.36" y1="274.80" x2="118.36" y2="279.60" stroke="#303030" stroke-width="0.9" />
<line x1="191.04" y1="274.80" x2="191.04" y2="279.60" stroke="#303030" stroke-width="0.9" />
<line x1="263.72" y1="274.80" x2="263.72" y2="279.60" stroke="#303030" stroke-width="0.9" />
<line x1="336.40" y1="274.80" x2="336.40" y2="279.60" stroke="#303030" stroke-width="0.9" />
<line x1="409.08" y1="274.80" x2="409.08" y2="279.60" stroke="#303030" stroke-width="0.9" />
<line x1="481.76" y1="274.80" x2="481.76" y2="279.60" stroke="#303030" stroke-width="0.9" />
<line x1="514.40" y1="170.50" x2="519.40" y2="170.50" stroke="#303030" stroke-width="0.7" />
<path d="M43.6 310.2 C43.6 314.6 48.2 317.5 55.1 317.5 L92.0 317.5 C98.6 317.5 103.2 319.8 104.0 324.0 C104.8 319.8 109.4 317.5 116.0 317.5 L179.0 317.5 C185.9 317.5 190.5 314.6 190.5 310.2" fill="none" stroke="#222" stroke-width="1.4" stroke-linejoin="miter"/>
<path d="M226.5 311.0 C226.5 314.6 231.1 317.0 238.0 317.0 L259.8 317.0 C266.4 317.0 271.0 319.4 271.8 323.8 C272.6 319.4 277.2 317.0 283.8 317.0 L325.5 317.0 C332.4 317.0 337.0 314.6 337.0 311.0" fill="none" stroke="#222" stroke-width="1.4" stroke-linejoin="miter"/>
<path d="M338.2 311.0 C338.2 314.6 342.8 317.0 349.7 317.0 L430.0 317.0 C436.6 317.0 441.2 319.4 442.0 323.8 C442.8 319.4 447.4 317.0 454.0 317.0 L503.3 317.0 C510.2 317.0 514.8 314.6 514.8 311.0" fill="none" stroke="#222" stroke-width="1.4" stroke-linejoin="miter"/>
<line x1="43.60" y1="431.20" x2="165.30" y2="431.20" stroke="#c4ba22" stroke-width="1.2" />
<path d="M43.6 431.0 V331.6 H165.3 V431.0" fill="none" stroke="#303030" stroke-width="1.3"/>
<line x1="43.60" y1="430.00" x2="165.30" y2="430.00" stroke="#5a5a5a" stroke-width="1.0" />
<line x1="38.90" y1="430.90" x2="43.60" y2="430.90" stroke="#303030" stroke-width="1.0" />
<line x1="38.90" y1="417.50" x2="43.60" y2="417.50" stroke="#303030" stroke-width="1.0" />
<line x1="38.90" y1="404.10" x2="43.60" y2="404.10" stroke="#303030" stroke-width="1.0" />
<line x1="38.90" y1="390.70" x2="43.60" y2="390.70" stroke="#303030" stroke-width="1.0" />
<line x1="38.90" y1="377.30" x2="43.60" y2="377.30" stroke="#303030" stroke-width="1.0" />
<line x1="38.90" y1="363.90" x2="43.60" y2="363.90" stroke="#303030" stroke-width="1.0" />
<line x1="38.90" y1="350.50" x2="43.60" y2="350.50" stroke="#303030" stroke-width="1.0" />
<line x1="43.40" y1="433.20" x2="43.40" y2="437.00" stroke="#303030" stroke-width="0.9" />
<line x1="73.72" y1="433.20" x2="73.72" y2="437.00" stroke="#303030" stroke-width="0.9" />
<line x1="104.04" y1="433.20" x2="104.04" y2="437.00" stroke="#303030" stroke-width="0.9" />
<line x1="134.36" y1="433.20" x2="134.36" y2="437.00" stroke="#303030" stroke-width="0.9" />
<line x1="164.68" y1="433.20" x2="164.68" y2="437.00" stroke="#303030" stroke-width="0.9" />
<path d="M43.60 430.30 L66.00 430.30 L68.60 429.50 L70.50 420.00 L72.20 396.00 L73.20 390.00 L75.60 390.40 L76.60 395.00 L78.20 414.00 L79.60 424.00 L81.50 428.50 L84.20 430.20 L88.00 430.30" fill="none" stroke="#1a1a1a" stroke-width="1.1" stroke-linejoin="round" />
<path d="M218.0 430.4 V332.9 H338.6 V430.4 Z" fill="none" stroke="#303030" stroke-width="1.3"/>
<line x1="213.70" y1="430.40" x2="218.00" y2="430.40" stroke="#303030" stroke-width="1.0" />
<line x1="213.70" y1="406.65" x2="218.00" y2="406.65" stroke="#303030" stroke-width="1.0" />
<line x1="213.70" y1="382.90" x2="218.00" y2="382.90" stroke="#303030" stroke-width="1.0" />
<line x1="213.70" y1="359.15" x2="218.00" y2="359.15" stroke="#303030" stroke-width="1.0" />
<line x1="336.10" y1="359.15" x2="341.10" y2="359.15" stroke="#303030" stroke-width="0.7" />
<line x1="218.30" y1="433.30" x2="218.30" y2="437.30" stroke="#303030" stroke-width="0.9" />
<line x1="249.10" y1="433.30" x2="249.10" y2="437.30" stroke="#303030" stroke-width="0.9" />
<line x1="279.10" y1="433.30" x2="279.10" y2="437.30" stroke="#303030" stroke-width="0.9" />
<line x1="309.60" y1="433.30" x2="309.60" y2="437.30" stroke="#303030" stroke-width="0.9" />
<line x1="339.60" y1="433.30" x2="339.60" y2="437.30" stroke="#303030" stroke-width="0.9" />
<path d="M218.40 430.30 L227.00 430.30 L234.50 424.70 L238.60 430.30 L242.60 427.30 L246.40 425.20 L250.90 387.10 L255.20 406.20 L259.40 425.20 L263.00 430.00 L266.80 419.70 L271.40 422.60 L275.30 360.30 L279.50 413.00 L283.20 415.70 L287.50 429.00 L291.00 428.30 L295.30 430.30 L298.80 428.30 L304.00 418.60 L307.40 418.00 L312.10 429.50 L317.00 430.30 L323.90 428.30 L327.30 428.30 L332.20 425.20 L336.00 430.00 L338.60 430.30" fill="none" stroke="#1a1a1a" stroke-width="1.1" stroke-linejoin="round" />
<line x1="394.50" y1="431.20" x2="516.10" y2="431.20" stroke="#b8ae30" stroke-width="1.0" />
<path d="M394.5 430.4 V331.0 H514.6 V430.4 Z" fill="none" stroke="#303030" stroke-width="1.3"/>
<line x1="389.60" y1="430.40" x2="394.50" y2="430.40" stroke="#303030" stroke-width="1.0" />
<line x1="389.60" y1="406.70" x2="394.50" y2="406.70" stroke="#303030" stroke-width="1.0" />
<line x1="389.60" y1="383.00" x2="394.50" y2="383.00" stroke="#303030" stroke-width="1.0" />
<line x1="389.60" y1="359.30" x2="394.50" y2="359.30" stroke="#303030" stroke-width="1.0" />
<line x1="512.10" y1="359.30" x2="517.10" y2="359.30" stroke="#303030" stroke-width="0.7" />
<line x1="394.30" y1="432.80" x2="394.30" y2="437.00" stroke="#303030" stroke-width="0.9" />
<line x1="425.00" y1="432.80" x2="425.00" y2="437.00" stroke="#303030" stroke-width="0.9" />
<line x1="455.20" y1="432.80" x2="455.20" y2="437.00" stroke="#303030" stroke-width="0.9" />
<line x1="485.60" y1="432.80" x2="485.60" y2="437.00" stroke="#303030" stroke-width="0.9" />
<line x1="515.00" y1="432.80" x2="515.00" y2="437.00" stroke="#303030" stroke-width="0.9" />
<path d="M394.50 430.30 L443.50 430.30 L444.50 429.00 L447.80 417.90 L450.30 376.00 L452.80 411.60 L455.50 417.90 L458.30 427.30 L461.20 430.30 L466.00 430.30" fill="none" stroke="#1a1a1a" stroke-width="1.1" stroke-linejoin="round" />
<path d="M42.9 483.3 C42.9 478.9 47.5 476.0 54.4 476.0 L92.0 476.0 C98.6 476.0 103.2 474.0 104.0 470.2 C104.8 474.0 109.4 476.0 116.0 476.0 L179.2 476.0 C186.1 476.0 190.7 478.9 190.7 483.3" fill="none" stroke="#222" stroke-width="1.4" stroke-linejoin="miter"/>
<path d="M226.8 472.5 C226.8 467.8 231.4 464.7 238.3 464.7 L260.2 464.7 C266.8 464.7 271.4 462.7 272.2 459.0 C273.0 462.7 277.6 464.7 284.2 464.7 L325.2 464.7 C332.1 464.7 336.7 467.8 336.7 472.5" fill="none" stroke="#222" stroke-width="1.4" stroke-linejoin="miter"/>
<path d="M340.2 485.3 C340.2 480.6 344.8 477.5 351.7 477.5 L430.7 477.5 C437.3 477.5 441.9 475.4 442.7 471.6 C443.5 475.4 448.1 477.5 454.7 477.5 L504.7 477.5 C511.6 477.5 516.2 480.6 516.2 485.3" fill="none" stroke="#222" stroke-width="1.4" stroke-linejoin="miter"/>
<line x1="222.00" y1="553.80" x2="465.00" y2="553.80" stroke="#d8d8d8" stroke-width="1.0" />
<line x1="222" y1="553.8" x2="465" y2="553.8" stroke="#4a4a4a" stroke-width="1.1" stroke-dasharray="13 13"/>
<clipPath id="cd"><rect x="41.9" y="490.8" width="477.70000000000005" height="107.19999999999999"/></clipPath>
<path d="M45.50 558.14 L46.44 553.00 L47.42 556.48 L48.35 552.72 L49.63 557.07 L50.83 554.37 L51.99 556.32 L53.14 552.71 L54.09 557.06 L55.05 552.65 L56.12 556.26 L57.13 554.16 L58.27 558.76 L59.43 553.99 L60.44 555.59 L61.32 551.62 L62.42 557.61 L63.32 553.56 L64.33 558.02 L65.19 553.97 L66.10 557.75 L67.30 553.88 L68.39 556.89 L69.43 554.61 L70.63 557.15 L71.56 554.21 L72.80 556.43 L74.03 554.34 L74.97 556.07 L76.14 552.20 L77.23 557.65 L78.48 554.46 L79.53 557.86 L80.70 554.00 L81.64 556.16 L82.74 552.61 L83.68 556.65 L84.58 554.28 L85.60 557.88 L86.56 551.27 L87.47 557.87 L88.40 551.75 L89.51 556.50 L90.64 552.26 L91.77 555.12 L92.87 554.37 L93.83 555.88 L94.82 554.29 L95.91 557.00 L96.81 552.89 L97.70 555.27 L98.75 553.68 L99.80 556.41 L101.09 553.11 L101.96 557.04 L103.23 554.26 L104.32 557.19 L105.26 552.75 L106.52 557.17 L107.63 550.89 L108.73 557.51 L109.68 553.15 L110.96 556.32 L112.06 551.49 L113.14 558.03 L114.26 551.51 L115.27 556.91 L116.40 552.79 L117.54 555.93 L118.57 553.20 L119.71 554.71 L120.78 551.54 L121.82 557.75 L122.91 552.07 L123.98 555.10 L125.26 551.14 L126.23 557.86 L127.20 553.48 L128.07 557.13 L129.20 553.78 L130.10 557.52 L131.26 553.57 L132.50 555.17 L133.44 551.69 L134.59 554.67 L135.45 552.95 L136.62 555.36 L137.48 548.73 L138.59 557.44 L139.82 551.60 L140.71 557.16 L141.76 553.86 L142.86 557.45 L144.04 551.53 L144.91 555.38 L145.98 551.39 L147.24 555.66 L148.16 553.56 L149.08 555.08 L150.18 551.37 L151.23 555.27 L152.39 550.18 L153.56 556.24 L154.65 552.27 L155.54 555.99 L156.63 551.57 L157.75 555.18 L158.96 553.06 L160.00 556.66 L161.14 551.33 L162.24 555.53 L163.54 551.28 L164.56 555.19 L165.58 551.25 L166.56 555.26 L167.59 550.30 L168.46 555.03 L169.51 553.42 L170.55 557.28 L171.60 550.86 L172.62 555.83 L173.84 550.66 L174.85 554.44 L175.93 552.05 L176.81 554.21 L177.73 552.36 L178.88 556.91 L180.07 552.51 L181.24 555.53 L182.48 550.71 L183.49 555.25 L184.75 553.56 L185.64 555.52 L186.62 552.29 L187.90 556.56 L189.06 550.53 L190.00 556.45 L190.89 551.30 L192.06 559.05 L193.31 552.80 L194.35 558.41 L195.64 548.42 L196.74 556.92 L197.70 551.79 L198.80 556.86 L199.97 549.28 L201.09 554.92 L202.12 548.72 L203.00 556.50 L203.93 548.81 L204.97 554.81 L206.02 549.00 L207.21 556.59 L208.26 552.50 L209.42 555.77 L210.68 549.91 L211.68 558.25 L212.94 552.07 L213.80 555.54 L215.01 551.85 L216.00 558.76 L217.14 551.11 L218.50 524.90" fill="none" stroke="#111" stroke-width="1.25" stroke-linejoin="round" clip-path="url(#cd)"/>
<path d="M218.50 524.90 L220.10 569.90 L221.00 531.00 L221.30 491.60 L221.80 525.00 L222.20 491.60 L222.70 522.00 L223.10 491.60 L223.60 522.00 L224.00 491.60 L224.50 525.00 L224.90 491.60 L225.40 528.00 L225.80 491.60 L226.20 533.00 L226.60 491.60 L226.90 552.00 L227.30 530.00 L227.80 548.00 L228.30 527.00 L228.80 550.00 L229.30 529.00 L229.80 548.00 L230.30 533.00 L230.80 551.00 L231.40 524.30 L232.00 549.00 L232.50 535.00 L233.00 550.00 L233.50 532.00 L234.10 546.00 L234.60 536.00 L235.70 545.80 L238.10 549.00 L239.70 555.40 L241.60 491.60" fill="none" stroke="#141414" stroke-width="1.0" stroke-linejoin="round" clip-path="url(#cd)"/>
<path d="M239.70 555.40 L241.60 491.60 L242.10 571.50 L243.20 491.60 L243.70 556.00 L244.40 491.60 L245.30 556.20 L246.20 491.60 L247.00 540.00 L247.40 491.60 L247.70 533.00 L249.60 552.20" fill="none" stroke="#6a6a6a" stroke-width="0.7" stroke-linejoin="round" clip-path="url(#cd)"/>
<path d="M247.70 533.00 L249.60 552.20 L251.20 550.60 L252.50 539.40 L254.10 545.80 L254.90 565.00 L256.00 552.20 L257.00 491.60" fill="none" stroke="#141414" stroke-width="1.0" stroke-linejoin="round" clip-path="url(#cd)"/>
<path d="M256.00 552.20 L257.00 491.60 L257.80 552.00 L258.90 491.60 L259.60 552.00 L260.50 491.60 L261.40 553.80 L262.90 491.60 L263.80 555.40" fill="none" stroke="#6a6a6a" stroke-width="0.7" stroke-linejoin="round" clip-path="url(#cd)"/>
<path d="M262.90 491.60 L263.80 555.40 L265.00 579.50 L267.00 557.00 L268.60 550.60 L270.90 528.10 L272.80 549.00 L274.10 558.60 L274.70 491.60 L275.60 545.00 L276.80 491.60 L277.60 523.30 L278.90 491.60 L279.20 528.10 L280.80 573.10 L282.10 507.30 L283.20 491.60 L284.00 520.10 L285.30 524.90 L286.50 545.80 L288.10 547.40 L289.70 561.80 L291.80 524.90 L294.00 575.50 L295.00 491.60 L295.60 560.00 L296.20 491.60 L296.80 555.00 L297.40 491.60 L298.00 552.00 L298.50 491.60 L298.80 536.20 L300.90 552.20 L302.50 537.80 L304.60 539.40 L306.20 549.00 L308.10 549.00 L310.10 550.60 L311.00 491.60 L312.00 552.00 L313.30 491.60 L314.20 540.00 L314.90 491.60 L314.50 513.70 L316.20 526.50 L318.20 491.60 L318.60 541.00 L319.60 559.20 L321.50 541.50 L323.60 567.20 L325.70 519.10 L326.80 517.50 L327.60 588.10 L328.90 512.70 L330.00 549.60 L331.60 543.20 L333.20 535.10 L334.90 548.00 L336.90 534.30 L338.90 546.40 L341.30 540.00 L342.90 556.00 L345.30 543.20 L348.50 535.10 L350.90 549.60 L353.30 543.20 L354.50 549.29" fill="none" stroke="#141414" stroke-width="1.0" stroke-linejoin="round" clip-path="url(#cd)"/>
<path d="M353.30 543.20 L354.50 549.29 L355.77 544.69 L357.09 548.95 L358.26 545.24 L359.51 547.24 L360.51 544.26 L361.53 547.84 L362.42 543.04 L363.34 549.58 L364.27 544.18 L365.48 547.04 L366.81 543.75 L368.03 549.29 L369.12 544.34 L370.37 547.61 L371.70 544.42 L372.81 546.99 L373.73 542.06 L375.08 546.72 L376.38 545.11 L377.69 547.70 L379.03 543.69 L380.35 547.06 L381.41 544.41 L382.40 546.50 L383.44 543.50 L384.44 546.55 L385.69 543.65 L386.69 547.41 L387.97 542.71 L388.96 547.64 L389.92 544.54 L391.16 546.94 L392.46 543.15 L393.43 546.78 L394.73 543.48 L395.79 548.81 L397.12 542.91 L398.40 546.48 L399.45 543.19 L400.42 547.79 L401.70 544.92 L402.75 546.58 L403.89 544.40 L405.19 547.58 L406.40 543.47 L407.48 546.06 L408.79 543.60 L409.84 547.93 L411.10 544.30 L412.16 546.83 L413.13 543.41 L414.43 548.02 L415.53 542.88 L416.46 547.14 L417.43 542.65 L418.36 545.97 L419.66 543.27 L420.75 546.90 L422.06 543.09 L422.91 546.69 L424.24 539.97 L425.41 545.51 L426.35 541.96 L427.26 548.63 L428.23 542.65 L429.55 549.02 L430.42 540.72 L431.68 547.38 L432.77 541.24 L433.71 547.85 L434.84 539.98 L436.16 546.53 L437.39 538.92 L438.66 548.69 L439.94 540.80 L441.01 547.33 L442.28 539.42 L443.55 546.39 L444.89 541.56 L445.95 546.00 L447.19 539.98 L448.16 549.53 L449.31 541.16 L450.49 547.11 L451.45 541.81 L452.41 549.89 L453.52 539.57 L454.68 548.60 L455.56 537.44 L456.86 544.87 L458.01 536.51 L459.11 544.97 L460.02 540.37 L461.28 548.15 L462.37 541.02 L463.65 547.43 L464.90 536.61 L465.76 545.95 L467.10 539.58 L468.18 548.68 L469.43 535.09 L470.31 547.74 L471.53 539.79 L472.66 548.81 L473.57 536.21 L474.77 544.36 L475.79 538.48 L476.71 547.18 L477.94 539.93 L478.95 548.25 L480.27 540.31 L481.29 545.29 L482.26 535.33 L483.55 547.48 L484.83 537.20 L486.04 548.21 L487.06 539.54 L488.12 547.19 L489.15 537.06 L490.29 547.79 L491.45 536.82 L492.61 545.14 L493.48 537.53 L494.53 545.29 L495.39 535.08 L496.40 546.76 L497.70 538.40 L498.84 547.92 L499.84 536.27 L501.17 547.49 L502.40 535.96 L503.64 550.62 L504.72 536.11 L505.58 547.81 L506.56 536.76 L507.44 548.18 L508.29 536.18 L509.38 545.14 L510.69 539.61 L511.88 549.49 L513.09 535.28 L514.12 544.95 L515.40 538.58 L516.30 545.33 L517.60 538.41 L518.40 527.00 L518.80 550.00 L519.20 527.00 L519.60 548.00" fill="none" stroke="#111" stroke-width="1.25" stroke-linejoin="round" clip-path="url(#cd)"/>
<path d="M41.9 598.0 V490.8 H519.6 V598.0 Z" fill="none" stroke="#303030" stroke-width="1.5"/>
<line x1="35.60" y1="597.90" x2="41.90" y2="597.90" stroke="#303030" stroke-width="1.0" />
<line x1="35.60" y1="571.12" x2="41.90" y2="571.12" stroke="#303030" stroke-width="1.0" />
<line x1="35.60" y1="544.35" x2="41.90" y2="544.35" stroke="#303030" stroke-width="1.0" />
<line x1="35.60" y1="517.57" x2="41.90" y2="517.57" stroke="#303030" stroke-width="1.0" />
<line x1="35.60" y1="490.80" x2="41.90" y2="490.80" stroke="#303030" stroke-width="1.0" />
<line x1="114.40" y1="594.00" x2="114.40" y2="598.00" stroke="#303030" stroke-width="0.9" />
<line x1="188.10" y1="594.00" x2="188.10" y2="598.00" stroke="#303030" stroke-width="0.9" />
<line x1="261.40" y1="594.00" x2="261.40" y2="598.00" stroke="#303030" stroke-width="0.9" />
<line x1="334.80" y1="594.00" x2="334.80" y2="598.00" stroke="#303030" stroke-width="0.9" />
<line x1="408.00" y1="594.00" x2="408.00" y2="598.00" stroke="#303030" stroke-width="0.9" />
<line x1="481.30" y1="594.00" x2="481.30" y2="598.00" stroke="#303030" stroke-width="0.9" />
<line x1="517.40" y1="594.00" x2="517.40" y2="598.00" stroke="#303030" stroke-width="0.9" />
<path d="M511 517.4 H423.5 V548" fill="none" stroke="#1a1a1a" stroke-width="1.1"/>
<path d="M419.8 533.0 L427.2 533.0 L423.5 542.5 Z" fill="#111"/>
<path d="M423.5 577 V562" fill="none" stroke="#1a1a1a" stroke-width="1.1"/>
<path d="M419.8 564.8 L427.2 564.8 L423.5 555.5 Z" fill="#111"/>
<text x="37.32" y="9.96" font-size="13" text-anchor="end" >10</text>
<text x="36.04" y="44.70" font-size="13" text-anchor="end" >5</text>
<text x="36.44" y="78.96" font-size="13" text-anchor="end" >0</text>
<text x="34.68" y="113.86" font-size="13" text-anchor="end" >-5</text>
<text x="104.42" y="147.56" font-size="11.5" text-anchor="start" >-0.6</text>
<text x="182.30" y="147.00" font-size="11.5" text-anchor="start" >-0,4</text>
<text x="260.18" y="147.00" font-size="11.5" text-anchor="start" >-0.2</text>
<text x="335.08" y="146.44" font-size="11.5" text-anchor="start" >0</text>
<text x="405.74" y="146.44" font-size="11.5" text-anchor="start" >0.2</text>
<text x="478.30" y="146.44" font-size="11.5" text-anchor="start" >0.4</text>
<text x="528.28" y="80.08" font-size="16.5" text-anchor="start" >(a)</text>
<text x="260.80" y="19.20" font-size="14" text-anchor="start" >f</text>
<text x="265.20" y="23.70" font-size="9.6" text-anchor="start" >whistler</text>
<text x="302.70" y="19.20" font-size="14" text-anchor="start" >= 20 MHz</text>
<g transform="translate(11.04 72.88) rotate(-90)"><text x="0.00" y="0.00" font-size="12.5" text-anchor="middle" >dB/dt [arb.]</text></g>
<text x="34.84" y="158.68" font-size="13" text-anchor="end" >10</text>
<text x="34.20" y="193.20" font-size="13" text-anchor="end" >5</text>
<text x="33.96" y="227.08" font-size="13" text-anchor="end" >0</text>
<text x="34.84" y="261.20" font-size="13" text-anchor="end" >-5</text>
<text x="102.30" y="295.62" font-size="11.5" text-anchor="start" >-0.6</text>
<text x="180.22" y="296.50" font-size="11.5" text-anchor="start" >-0,4</text>
<text x="332.30" y="296.02" font-size="11.5" text-anchor="start" >0</text>
<text x="401.98" y="296.02" font-size="11.5" text-anchor="start" >0.2</text>
<text x="475.20" y="296.02" font-size="11.5" text-anchor="start" >0.4</text>
<text x="528.96" y="220.08" font-size="16.5" text-anchor="start" >(b)</text>
<text x="223.00" y="171.40" font-size="14" text-anchor="start" >f</text>
<text x="227.40" y="175.10" font-size="9.6" text-anchor="start" >herringb.</text>
<text x="267.80" y="172.20" font-size="14" text-anchor="start" >= 20 MHz</text>
<text x="220.20" y="195.20" font-size="12" text-anchor="middle" >A</text>
<text x="238.60" y="195.20" font-size="12" text-anchor="middle" >B</text>
<text x="256.50" y="195.20" font-size="12" text-anchor="middle" >C</text>
<text x="273.20" y="195.20" font-size="12" text-anchor="middle" >D</text>
<text x="294.40" y="195.20" font-size="12" text-anchor="middle" >E</text>
<text x="308.50" y="195.20" font-size="12" text-anchor="middle" >F</text>
<text x="325.00" y="195.20" font-size="12" text-anchor="middle" >G</text>
<text x="235.64" y="299.50" font-size="14" text-anchor="start" >t - t</text>
<text x="259.04" y="303.70" font-size="13.5" text-anchor="start" letter-spacing="0.7">trig</text>
<text x="292.00" y="298.76" font-size="13.5" text-anchor="start" >[µs]</text>
<g transform="translate(12.60 238.80) rotate(-90)"><text x="0.00" y="0.00" font-size="12" text-anchor="start" >E</text></g>
<g transform="translate(18.50 230.10) rotate(-90)"><text x="0.00" y="0.00" font-size="12.5" text-anchor="start" >z</text></g>
<g transform="translate(11.50 223.80) rotate(-90)"><text x="0.00" y="0.00" font-size="13" text-anchor="start" >[kV/m]</text></g>
<text x="36.80" y="434.30" font-size="9.5" text-anchor="end" >0</text>
<text x="36.80" y="407.50" font-size="9.5" text-anchor="end" >50</text>
<text x="36.80" y="380.70" font-size="9.5" text-anchor="end" >100</text>
<text x="36.72" y="353.90" font-size="9.5" text-anchor="end" >150</text>
<text x="30.80" y="450.50" font-size="12.5" text-anchor="start" >350</text>
<text x="92.16" y="450.50" font-size="12.5" text-anchor="start" >400</text>
<text x="152.92" y="450.50" font-size="12.5" text-anchor="start" >450</text>
<text x="77.96" y="463.00" font-size="12.5" text-anchor="start" >f</text>
<text x="87.36" y="463.00" font-size="12.5" text-anchor="start" >[MHz]</text>
<g transform="translate(10.96 408.00) rotate(-90)"><text x="0" y="0" font-size="11.5">FFT<tspan dx="5">[arb.]</tspan></text></g>
<text x="53.56" y="412.82" font-size="15" >f<tspan font-size="12.5" dy="5.8">1</tspan></text>
<text x="210.60" y="433.80" font-size="9.5" text-anchor="end" >0</text>
<text x="210.60" y="410.05" font-size="9.5" text-anchor="end" >5</text>
<text x="210.60" y="386.30" font-size="9.5" text-anchor="end" >10</text>
<text x="210.68" y="361.91" font-size="9.5" text-anchor="end" >15</text>
<text x="205.80" y="450.60" font-size="12.5" text-anchor="start" >350</text>
<text x="325.12" y="450.60" font-size="12.5" text-anchor="start" >450</text>
<text x="255.86" y="449.46" font-size="12.5" text-anchor="start" >f</text>
<text x="264.38" y="449.62" font-size="12.5" text-anchor="start" >[MHz]</text>
<text x="229.48" y="348.76" font-size="14">f<tspan font-size="12" dy="4.3">1</tspan><tspan dy="-4.3"> - f</tspan><tspan font-size="12" dy="4.3">2</tspan><tspan dy="-4.3"> = 20 MHz</tspan></text>
<text x="226.18" y="414.32" font-size="14" >f<tspan font-size="12" dy="5.2">0</tspan></text>
<text x="240.64" y="377.76" font-size="14" >f<tspan font-size="12" dy="6.1">1</tspan></text>
<text x="282.60" y="366.64" font-size="14" >f<tspan font-size="12" dy="7.7">2</tspan></text>
<text x="304.60" y="408.38" font-size="14" >f<tspan font-size="12" dy="7.8">3</tspan></text>
<text x="325.60" y="414.32" font-size="14" >f<tspan font-size="12" dy="6.9">4</tspan></text>
<text x="385.60" y="433.80" font-size="9.5" text-anchor="end" >0</text>
<text x="385.60" y="410.10" font-size="9.5" text-anchor="end" >20</text>
<text x="385.60" y="386.40" font-size="9.5" text-anchor="end" >40</text>
<text x="385.60" y="362.38" font-size="9.5" text-anchor="end" >60</text>
<text x="381.94" y="450.50" font-size="12.5" text-anchor="start" >350</text>
<text x="443.74" y="450.50" font-size="12.5" text-anchor="start" >400</text>
<text x="504.24" y="450.50" font-size="12.5" text-anchor="start" >450</text>
<text x="436.26" y="463.60" font-size="12.5" text-anchor="start" >f</text>
<text x="443.96" y="463.40" font-size="12.5" text-anchor="start" >[MHz]</text>
<text x="528.44" y="384.38" font-size="16.5" text-anchor="start" >(c)</text>
<text x="467.44" y="411.30" font-size="14" >f<tspan font-size="12" dy="7.4">2</tspan></text>
<text x="33.60" y="601.50" font-size="10" text-anchor="end" >300</text>
<text x="33.60" y="574.73" font-size="10" text-anchor="end" >350</text>
<text x="33.60" y="547.95" font-size="10" text-anchor="end" >400</text>
<text x="33.60" y="521.17" font-size="10" text-anchor="end" >450</text>
<text x="33.52" y="494.88" font-size="10" text-anchor="end" >500</text>
<text x="96.88" y="612.80" font-size="12" text-anchor="start" >-0.6</text>
<text x="174.26" y="612.32" font-size="12" text-anchor="start" >-0,4</text>
<text x="252.44" y="612.56" font-size="12" text-anchor="start" >-0.2</text>
<text x="330.84" y="612.56" font-size="12" text-anchor="start" >0</text>
<text x="397.10" y="613.04" font-size="12" text-anchor="start" >0.2</text>
<text x="470.50" y="613.04" font-size="12" text-anchor="start" >0.4</text>
<text x="231.10" y="627.68" font-size="14" text-anchor="start" >t - t</text>
<text x="254.56" y="629.98" font-size="13.5" text-anchor="start" letter-spacing="0.7">trig</text>
<text x="287.48" y="625.88" font-size="13.5" text-anchor="start" >[µs]</text>
<g transform="translate(10.50 567.08) rotate(-90)"><text x="0.00" y="0.00" font-size="14" text-anchor="start" >f</text></g>
<g transform="translate(16.10 561.20) rotate(-90)"><text x="0.00" y="0.00" font-size="10.5" text-anchor="start" letter-spacing="0.6">inst</text></g>
<g transform="translate(10.00 541.80) rotate(-90)"><text x="0.00" y="0.00" font-size="12" text-anchor="start" >[MHz]</text></g>
<text x="224.20" y="488.40" font-size="11.5" text-anchor="middle" >A</text>
<text x="242.80" y="488.40" font-size="11.5" text-anchor="middle" >B</text>
<text x="260.20" y="488.40" font-size="11.5" text-anchor="middle" >C</text>
<text x="277.50" y="488.40" font-size="11.5" text-anchor="middle" >D</text>
<text x="298.50" y="488.40" font-size="11.5" text-anchor="middle" >E</text>
<text x="312.50" y="488.40" font-size="11.5" text-anchor="middle" >F</text>
<text x="328.90" y="488.40" font-size="11.5" text-anchor="middle" >G</text>
<text x="529.24" y="547.94" font-size="16.5" text-anchor="start" >(d)</text>
<text x="84.00" y="576.54" font-size="14" >f<tspan font-size="12.5" dy="7.2">1</tspan></text>
<text x="391.74" y="531.16" font-size="14.5" >f<tspan font-size="13" dy="8.9">2</tspan></text>
<text x="390.54" y="573.16" font-size="14.5" >f<tspan font-size="13" dy="6.4">1</tspan></text>
<text x="429.12" y="513.50" font-size="13.5" text-anchor="start" >Δf</text>
<text x="447.06" y="512.70" font-size="13.5" text-anchor="start" >=</text>
<text x="459.20" y="513.50" font-size="13.5" text-anchor="start" >20</text>
<text x="478.40" y="513.50" font-size="13.5" text-anchor="start" >MHz</text>
</svg></body></html>
